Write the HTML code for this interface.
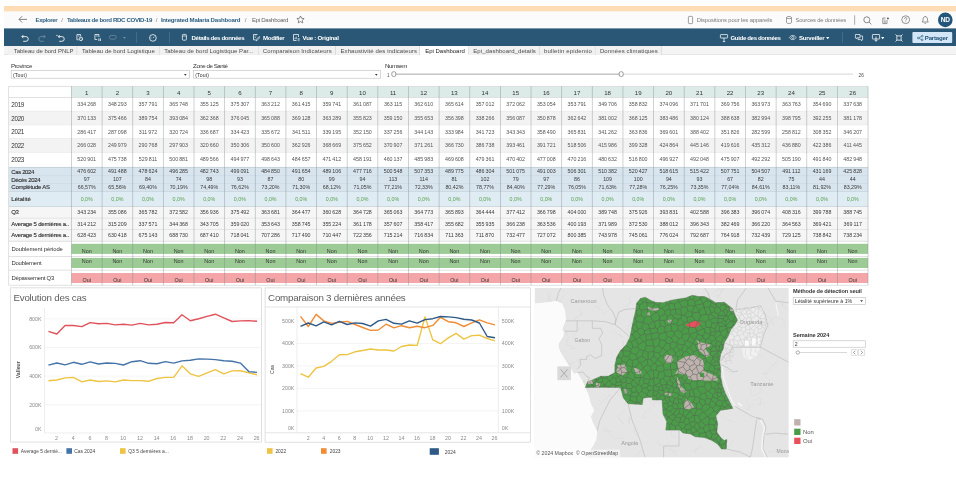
<!DOCTYPE html><html lang="fr"><head><meta charset="utf-8"><title>Epi Dashboard</title>
<style>
html,body{margin:0;padding:0;background:#fff}
body{width:956px;height:477px;position:relative;overflow:hidden;font-family:"Liberation Sans",sans-serif;color:#333}
.abs{position:absolute;white-space:nowrap}
.txt{position:absolute;left:0;top:0;width:956px;height:477px;will-change:transform}
span.abs{line-height:1.15}
svg{overflow:visible}
.bcb{font-size:5.9px;font-weight:bold;color:#2c5f82}
.bcs{font-size:5.9px;color:#777}
.bcr{font-size:5.9px;color:#666}
.bcg{font-size:5.6px;color:#7a7a7a}
.tbt{font-size:5.9px;font-weight:bold;color:#fff}
.tab{font-size:5.9px;color:#4d4d4d}
.tab.act{color:#222}
.flab{font-size:5.4px;color:#333}
.ftxt{font-size:4.9px;color:#333}
.th{font-size:6px;color:#333;text-align:center}
.td{font-size:5.2px;color:#555;text-align:center}
.td.dk{color:#3a3a3a}
.td.gr{color:#59a14f}
.ly{font-size:6.2px;color:#333}
.lb{font-size:5.9px;color:#2a2a2a;-webkit-text-stroke:0.1px #2a2a2a}
.ld{color:#333}
.td.nn{color:#333}
.ctitle{font-size:9.8px;color:#5e5e5e}
.ax{font-size:5.3px;fill:#8a8a8a;font-family:"Liberation Sans",sans-serif}
.axt{font-size:5.2px;fill:#444;font-weight:bold;font-family:"Liberation Sans",sans-serif}
.lg{font-size:4.9px;fill:#444;font-family:"Liberation Sans",sans-serif}
.ml{font-size:5.2px;fill:#9a9a9a;font-family:"Liberation Sans",sans-serif}
.attr{font-size:5.2px;fill:#555;font-family:"Liberation Sans",sans-serif}
.plab{font-size:5.4px;font-weight:bold;color:#333}
.ptxt{font-size:5px;color:#333}
.pleg{font-size:5.8px;color:#555}
</style></head>
<body>
<div class="txt">
<svg class="abs" style="left:0;top:0" width="956" height="477" viewBox="0 0 956 477">
<rect x="4.00" y="6.00" width="952.00" height="5.60" fill="#fddcb6"></rect>
<rect x="4.00" y="11.60" width="952.00" height="16.90" fill="#fbfbfb"></rect>
<rect x="854.40" y="15.30" width="0.70" height="9.40" fill="#888"></rect>
<rect x="938.00" y="12.60" width="14.60" height="14.60" rx="7.30" fill="#24557a"></rect>
<rect x="4.00" y="28.40" width="952.00" height="17.70" fill="#2a5775"></rect>
<rect x="136.40" y="32.20" width="0.60" height="10.60" fill="#587c97"></rect>
<rect x="169.40" y="32.20" width="0.60" height="10.60" fill="#587c97"></rect>
<rect x="842.20" y="32.20" width="0.60" height="10.60" fill="#587c97"></rect>
<rect x="912.40" y="32.00" width="39.80" height="11.00" rx="1.00" fill="#d3e6f8"></rect>
<rect x="4.00" y="46.10" width="952.00" height="8.80" fill="#f4f4f4"></rect><rect x="4.00" y="54.30" width="952.00" height="0.6" fill="#dcdcdc"></rect>
<rect x="8.40" y="46.10" width="68.90" height="8.80" fill="#f1f1f1"></rect><rect x="76.60" y="46.10" width="0.7" height="8.80" fill="#d2d2d2"></rect>
<rect x="77.30" y="46.10" width="82.40" height="8.80" fill="#f1f1f1"></rect><rect x="159.00" y="46.10" width="0.7" height="8.80" fill="#d2d2d2"></rect>
<rect x="159.70" y="46.10" width="99.00" height="8.80" fill="#f1f1f1"></rect><rect x="258.00" y="46.10" width="0.7" height="8.80" fill="#d2d2d2"></rect>
<rect x="258.70" y="46.10" width="77.30" height="8.80" fill="#f1f1f1"></rect><rect x="335.30" y="46.10" width="0.7" height="8.80" fill="#d2d2d2"></rect>
<rect x="336.00" y="46.10" width="84.00" height="8.80" fill="#f1f1f1"></rect><rect x="419.30" y="46.10" width="0.7" height="8.80" fill="#d2d2d2"></rect>
<rect x="420.00" y="46.10" width="48.70" height="8.80" fill="#ffffff"></rect><rect x="468.00" y="46.10" width="0.7" height="8.80" fill="#d2d2d2"></rect>
<rect x="468.70" y="46.10" width="71.20" height="8.80" fill="#f1f1f1"></rect><rect x="539.20" y="46.10" width="0.7" height="8.80" fill="#d2d2d2"></rect>
<rect x="539.90" y="46.10" width="55.70" height="8.80" fill="#f1f1f1"></rect><rect x="594.90" y="46.10" width="0.7" height="8.80" fill="#d2d2d2"></rect>
<rect x="595.60" y="46.10" width="66.00" height="8.80" fill="#f1f1f1"></rect><rect x="660.90" y="46.10" width="0.7" height="8.80" fill="#d2d2d2"></rect>
<rect x="11.20" y="70.60" width="178.10" height="7.60" fill="#fff" stroke="#bdbdbd" stroke-width="0.6"></rect>
<rect x="193.40" y="70.60" width="186.90" height="7.60" fill="#fff" stroke="#bdbdbd" stroke-width="0.6"></rect>
<rect x="394.00" y="73.60" width="227.00" height="1.10" fill="#b0b0b0"></rect>
<rect x="622.00" y="73.50" width="231.00" height="1.30" fill="#e0e0e0"></rect>
<rect x="391.85" y="71.75" width="3.90" height="4.70" rx="1.40" fill="#fff" stroke="#777" stroke-width="0.7"></rect>
<rect x="619.25" y="71.75" width="3.90" height="4.70" rx="1.40" fill="#fff" stroke="#777" stroke-width="0.7"></rect>
<rect x="71.40" y="86.30" width="796.60" height="11.20" fill="#dcebe8"></rect>
<rect x="8.70" y="97.50" width="859.30" height="13.70" fill="#ffffff"></rect>
<rect x="8.70" y="111.20" width="859.30" height="13.70" fill="#f3f3f3"></rect>
<rect x="8.70" y="124.90" width="859.30" height="13.70" fill="#ffffff"></rect>
<rect x="8.70" y="138.60" width="859.30" height="13.70" fill="#f3f3f3"></rect>
<rect x="8.70" y="152.30" width="859.30" height="14.90" fill="#ffffff"></rect>
<rect x="8.70" y="167.40" width="859.30" height="8.30" fill="#d8e5ee"></rect>
<rect x="8.70" y="175.70" width="859.30" height="7.80" fill="#d8e5ee"></rect>
<rect x="8.70" y="183.50" width="859.30" height="7.90" fill="#d8e5ee"></rect>
<rect x="8.70" y="191.40" width="859.30" height="15.00" fill="#e0ecf3"></rect>
<rect x="8.70" y="206.40" width="859.30" height="11.70" fill="#f6f6f6"></rect>
<rect x="8.70" y="218.10" width="859.30" height="11.40" fill="#f6f6f6"></rect>
<rect x="8.70" y="229.50" width="859.30" height="11.60" fill="#f6f6f6"></rect>
<rect x="8.70" y="85.95" width="859.30" height="0.70" fill="#d4d4d4"></rect>
<rect x="8.70" y="97.15" width="859.30" height="0.70" fill="#d4d4d4"></rect>
<rect x="8.70" y="110.85" width="859.30" height="0.70" fill="#e8e8e8"></rect>
<rect x="8.70" y="124.55" width="859.30" height="0.70" fill="#e8e8e8"></rect>
<rect x="8.70" y="138.25" width="859.30" height="0.70" fill="#e8e8e8"></rect>
<rect x="8.70" y="151.95" width="859.30" height="0.70" fill="#e8e8e8"></rect>
<rect x="8.70" y="166.95" width="859.30" height="0.70" fill="#b9c6cf"></rect>
<rect x="8.70" y="175.35" width="859.30" height="0.70" fill="#cbd9e3"></rect>
<rect x="8.70" y="183.15" width="859.30" height="0.70" fill="#cbd9e3"></rect>
<rect x="8.70" y="191.05" width="859.30" height="0.70" fill="#c3d0d9"></rect>
<rect x="8.70" y="206.05" width="859.30" height="0.70" fill="#c2cdd4"></rect>
<rect x="8.70" y="217.75" width="859.30" height="0.70" fill="#dedede"></rect>
<rect x="8.70" y="229.15" width="859.30" height="0.70" fill="#dedede"></rect>
<rect x="8.70" y="240.85" width="859.30" height="0.70" fill="#d4d4d4"></rect>
<rect x="71.40" y="243.80" width="796.60" height="10.10" fill="#9ccb95"></rect>
<rect x="8.70" y="256.05" width="859.30" height="0.70" fill="#d4d4d4"></rect>
<rect x="71.40" y="257.90" width="796.60" height="10.10" fill="#9ccb95"></rect>
<rect x="8.70" y="269.75" width="859.30" height="0.70" fill="#d4d4d4"></rect>
<rect x="71.40" y="273.00" width="796.60" height="10.00" fill="#f3a5a7"></rect>
<rect x="8.70" y="284.85" width="859.30" height="0.70" fill="#d4d4d4"></rect>
<rect x="71.05" y="86.30" width="0.80" height="198.90" fill="rgba(120,130,135,0.45)"></rect>
<rect x="101.69" y="86.30" width="0.80" height="198.90" fill="rgba(120,130,135,0.45)"></rect>
<rect x="132.33" y="86.30" width="0.80" height="198.90" fill="rgba(120,130,135,0.45)"></rect>
<rect x="162.97" y="86.30" width="0.80" height="198.90" fill="rgba(120,130,135,0.45)"></rect>
<rect x="193.60" y="86.30" width="0.80" height="198.90" fill="rgba(120,130,135,0.45)"></rect>
<rect x="224.24" y="86.30" width="0.80" height="198.90" fill="rgba(120,130,135,0.45)"></rect>
<rect x="254.88" y="86.30" width="0.80" height="198.90" fill="rgba(120,130,135,0.45)"></rect>
<rect x="285.52" y="86.30" width="0.80" height="198.90" fill="rgba(120,130,135,0.45)"></rect>
<rect x="316.16" y="86.30" width="0.80" height="198.90" fill="rgba(120,130,135,0.45)"></rect>
<rect x="346.80" y="86.30" width="0.80" height="198.90" fill="rgba(120,130,135,0.45)"></rect>
<rect x="377.43" y="86.30" width="0.80" height="198.90" fill="rgba(120,130,135,0.45)"></rect>
<rect x="408.07" y="86.30" width="0.80" height="198.90" fill="rgba(120,130,135,0.45)"></rect>
<rect x="438.71" y="86.30" width="0.80" height="198.90" fill="rgba(120,130,135,0.45)"></rect>
<rect x="469.35" y="86.30" width="0.80" height="198.90" fill="rgba(120,130,135,0.45)"></rect>
<rect x="499.99" y="86.30" width="0.80" height="198.90" fill="rgba(120,130,135,0.45)"></rect>
<rect x="530.63" y="86.30" width="0.80" height="198.90" fill="rgba(120,130,135,0.45)"></rect>
<rect x="561.27" y="86.30" width="0.80" height="198.90" fill="rgba(120,130,135,0.45)"></rect>
<rect x="591.90" y="86.30" width="0.80" height="198.90" fill="rgba(120,130,135,0.45)"></rect>
<rect x="622.54" y="86.30" width="0.80" height="198.90" fill="rgba(120,130,135,0.45)"></rect>
<rect x="653.18" y="86.30" width="0.80" height="198.90" fill="rgba(120,130,135,0.45)"></rect>
<rect x="683.82" y="86.30" width="0.80" height="198.90" fill="rgba(120,130,135,0.45)"></rect>
<rect x="714.46" y="86.30" width="0.80" height="198.90" fill="rgba(120,130,135,0.45)"></rect>
<rect x="745.10" y="86.30" width="0.80" height="198.90" fill="rgba(120,130,135,0.45)"></rect>
<rect x="775.73" y="86.30" width="0.80" height="198.90" fill="rgba(120,130,135,0.45)"></rect>
<rect x="806.37" y="86.30" width="0.80" height="198.90" fill="rgba(120,130,135,0.45)"></rect>
<rect x="837.01" y="86.30" width="0.80" height="198.90" fill="rgba(120,130,135,0.45)"></rect>
<rect x="867.65" y="86.30" width="0.80" height="198.90" fill="rgba(120,130,135,0.45)"></rect>
<rect x="8.35" y="86.30" width="0.70" height="198.90" fill="#d4d4d4"></rect>
<rect x="10.65" y="287.85" width="250.95" height="154.20" fill="#fff" stroke="#d2d2d2" stroke-width="0.7"></rect>
</svg>
<svg class="abs" style="left:18.4px;top:14.9px" width="10" height="9" viewBox="0 0 10 9"><path d="M9 4.4H1.2M4.2 1.2L1 4.4L4.2 7.6" fill="none" stroke="#666" stroke-width="0.8"></path></svg>
<svg class="abs" style="left:295.6px;top:15.4px" width="9" height="9" viewBox="0 0 24 24"><path d="M12 2.5l2.9 6.3 6.8.8-5 4.7 1.3 6.8L12 17.7 6 21.1l1.3-6.8-5-4.7 6.8-.8z" fill="none" stroke="#666" stroke-width="2"></path></svg>
<svg class="abs" style="left:688px;top:15.8px" width="5" height="8" viewBox="0 0 5 8"><rect x="0.4" y="0.4" width="4.2" height="7.2" rx="0.8" fill="none" stroke="#777" stroke-width="0.7"></rect></svg>
<svg class="abs" style="left:786px;top:15.8px" width="6" height="8" viewBox="0 0 6 8"><path d="M0.5 1.6v4.8c0 .6 1.1 1.1 2.5 1.1s2.5-.5 2.5-1.1V1.6" fill="none" stroke="#777" stroke-width="0.7"></path><ellipse cx="3" cy="1.6" rx="2.5" ry="1.1" fill="none" stroke="#777" stroke-width="0.7"></ellipse></svg>
<svg class="abs" style="left:863px;top:15.6px" width="9" height="9" viewBox="0 0 9 9"><circle cx="3.8" cy="3.8" r="3" fill="none" stroke="#666" stroke-width="0.75"></circle><path d="M6 6l2.4 2.4" stroke="#666" stroke-width="0.75"></path></svg>
<svg class="abs" style="left:881.6px;top:16.6px" width="8" height="8" viewBox="0 0 8 8"><path d="M3.6 1H0.8V6.6H5V3" fill="none" stroke="#6a6a6a" stroke-width="0.7"></path><path d="M1.8 3H3.4M1.8 4.2H4M1.8 5.4H4" stroke="#6a6a6a" stroke-width="0.5"></path><circle cx="5.9" cy="1.4" r="0.95" fill="#555"></circle></svg>
<svg class="abs" style="left:900.5px;top:15.3px" width="9.4" height="9.4" viewBox="0 0 10 10"><circle cx="5" cy="5" r="4.2" fill="none" stroke="#666" stroke-width="0.75"></circle><path d="M3.7 4c0-.8.6-1.3 1.3-1.3s1.3.5 1.3 1.2c0 .9-1.3 1-1.3 2.1" fill="none" stroke="#666" stroke-width="0.75"></path><circle cx="5" cy="7.3" r="0.45" fill="#666"></circle></svg>
<svg class="abs" style="left:921px;top:15.3px" width="8.5" height="9.5" viewBox="0 0 9 10"><path d="M1.2 7.4c1-.9 1-1.8 1-3.2 0-1.500 1-2.500 2.300-2.500s2.300 1 2.300 2.500c0 1.400 0 2.300 1 3.200z" fill="none" stroke="#666" stroke-width="0.75" stroke-linejoin="round"></path><path d="M3.700 8.500c.2.400.5.600.8.600s.6-.2.800-.6" fill="none" stroke="#666" stroke-width="0.7"></path><path d="M4.500 1.700V0.900" stroke="#666" stroke-width="0.7"></path></svg>
<svg class="abs" style="left:21.3px;top:33.6px" width="8" height="8" viewBox="0 0 8 8"><g><path d="M0.9 2.6H4.9A2.35 2.35 0 0 1 4.9 7.3H2.2" fill="none" stroke="#ffffff" stroke-width="0.85"></path><path d="M2.4 1L0.8 2.6L2.4 4.2" fill="none" stroke="#ffffff" stroke-width="0.85"></path></g></svg>
<svg class="abs" style="left:38.4px;top:33.6px" width="8" height="8" viewBox="0 0 8 8"><g transform="translate(8,0) scale(-1,1)"><path d="M0.9 2.6H4.9A2.35 2.35 0 0 1 4.9 7.3H2.2" fill="none" stroke="#6f8ea5" stroke-width="0.85"></path><path d="M2.4 1L0.8 2.6L2.4 4.2" fill="none" stroke="#6f8ea5" stroke-width="0.85"></path></g></svg>
<svg class="abs" style="left:56.4px;top:33.6px" width="9" height="8" viewBox="0 0 9 8"><path d="M2.4 2.6H5.9A2.35 2.35 0 0 1 5.9 7.3H3.2" fill="none" stroke="#ffffff" stroke-width="0.85"></path><path d="M3.7 1.1L2.3 2.6L3.7 4.1" fill="none" stroke="#ffffff" stroke-width="0.85"></path><path d="M0.3 1.4H1.5" stroke="#ffffff" stroke-width="0.85"></path></svg>
<svg class="abs" style="left:76.2px;top:34.2px" width="7.2" height="7.2" viewBox="0 0 7.2 7.2"><path d="M4.6 0.5H0.9V5.8H2.6" fill="none" stroke="#ffffff" stroke-width="0.75"></path><path d="M4.6 0.5V2.4" stroke="#ffffff" stroke-width="0.75"></path><circle cx="4.9" cy="4.9" r="1.75" fill="none" stroke="#ffffff" stroke-width="0.8"></circle><path d="M1.9 2H3.6" stroke="#ffffff" stroke-width="0.6"></path><path d="M4.9 4V5L5.6 5.3" fill="none" stroke="#ffffff" stroke-width="0.5"></path></svg>
<svg class="abs" style="left:93.8px;top:34.2px" width="7.5" height="7.5" viewBox="0 0 7.5 7.5"><path d="M4.9 0.500H0.9V5.5H3.2" fill="none" stroke="#ffffff" stroke-width="0.75"></path><path d="M4.9 0.500V3.2" stroke="#ffffff" stroke-width="0.75"></path><path d="M4.9 4.4V7M6.4 4.4V7" stroke="#ffffff" stroke-width="0.8"></path><path d="M1.900 2H3.800" stroke="#ffffff" stroke-width="0.6"></path></svg>
<svg class="abs" style="left:109px;top:35.3px" width="7.6" height="4.8" viewBox="0 0 7.6 4.8"><rect x="0.4" y="0.4" width="6.8" height="3.8" rx="1.9" fill="none" stroke="#6f8ea5" stroke-width="0.75"></rect></svg>
<svg class="abs" style="left:123.2px;top:36.6px" width="3" height="2" viewBox="0 0 3 2"><path d="M0 0H3L1.500 2z" fill="#6f8ea5"></path></svg>
<svg class="abs" style="left:149.2px;top:33.8px" width="7.8" height="7.8" viewBox="0 0 7.8 7.8"><circle cx="3.9" cy="3.9" r="3.35" fill="none" stroke="#ffffff" stroke-width="0.8"></circle><path d="M3.9 4L5.300 2.600M1.700 4H2.500" stroke="#ffffff" stroke-width="0.7"></path></svg>
<svg class="abs" style="left:182.2px;top:34.4px" width="4.8" height="6.6" viewBox="0 0 4.8 6.6"><rect x="0.4" y="0.4" width="4" height="5.8" rx="0.9" fill="none" stroke="#ffffff" stroke-width="0.75"></rect><path d="M0.4 2H4.4" stroke="#ffffff" stroke-width="0.65"></path></svg>
<svg class="abs" style="left:252.600px;top:33.800px" width="7.500" height="7.500" viewBox="0 0 7.500 7.500"><path d="M4.500 0.500H0.500V5.800H2.500" fill="none" stroke="#ffffff" stroke-width="0.75"></path><path d="M3 7L3.400 5.400L6.200 2.600L7 3.400L4.200 6.200z" fill="none" stroke="#ffffff" stroke-width="0.65"></path><path d="M1.500 2H3.500M1.500 3.500H3" stroke="#ffffff" stroke-width="0.5"></path></svg>
<svg class="abs" style="left:293px;top:33.800px" width="7" height="7.500" viewBox="0 0 7 7.500"><path d="M5.500 3V0.500H0.500V6.500H3.500" fill="none" stroke="#ffffff" stroke-width="0.75"></path><path d="M2 5.200V3.800M3.200 5.200V2.500" stroke="#ffffff" stroke-width="0.7"></path><path d="M4.600 4.500H6.600M4.600 5.600H6.600M4.600 6.700H6.600" stroke="#ffffff" stroke-width="0.55"></path></svg>
<svg class="abs" style="left:720px;top:33.600px" width="8" height="8" viewBox="0 0 8 8"><rect x="0.400" y="0.600" width="7.200" height="3.400" rx="0.500" fill="none" stroke="#ffffff" stroke-width="0.75"></rect><path d="M4 4V7.600M2.800 7.600H5.200" stroke="#ffffff" stroke-width="0.75"></path></svg>
<svg class="abs" style="left:789px;top:35px" width="7.500" height="5" viewBox="0 0 7.500 5"><path d="M0.400 2.500C1.500 0.800 2.600 0.400 3.750 0.400S6 0.800 7.100 2.500C6 4.200 4.900 4.600 3.750 4.600S1.500 4.200 0.400 2.500z" fill="none" stroke="#ffffff" stroke-width="0.65"></path><circle cx="3.750" cy="2.500" r="1.100" fill="none" stroke="#ffffff" stroke-width="0.65"></circle></svg>
<svg class="abs" style="left:826px;top:36.600px" width="3.400" height="2.200" viewBox="0 0 3 2"><path d="M0 0H3L1.500 2z" fill="#ffffff"></path></svg>
<svg class="abs" style="left:855px;top:33.800px" width="8" height="7.500" viewBox="0 0 8 7.500"><path d="M0.400 0.500H5V3.800H2.200L1.200 4.800V3.800H0.400z" fill="none" stroke="#ffffff" stroke-width="0.7"></path><path d="M5.200 2H7.600V5.600H6.800V6.700L5.700 5.600H3V4" fill="none" stroke="#ffffff" stroke-width="0.7"></path></svg>
<svg class="abs" style="left:871.800px;top:33.600px" width="8" height="8" viewBox="0 0 8 8"><rect x="0.400" y="0.500" width="7.200" height="4.500" rx="0.400" fill="none" stroke="#ffffff" stroke-width="0.75"></rect><path d="M4 2.500V7.200M2.600 5.900L4 7.300L5.400 5.900" fill="none" stroke="#ffffff" stroke-width="0.75"></path></svg>
<svg class="abs" style="left:881.200px;top:36.600px" width="3.400" height="2.200" viewBox="0 0 3 2"><path d="M0 0H3L1.500 2z" fill="#ffffff"></path></svg>
<svg class="abs" style="left:894.800px;top:33.700px" width="8" height="8" viewBox="0 0 8 8"><rect x="1.900" y="1.900" width="4.200" height="4.200" fill="none" stroke="#ffffff" stroke-width="0.8"></rect><path d="M0.500 0.500L1.900 1.900M7.500 0.500L6.100 1.900M7.500 7.500L6.100 6.100M0.500 7.500L1.900 6.100" fill="none" stroke="#ffffff" stroke-width="0.8"></path></svg>
<svg class="abs" style="left:916.500px;top:34.600px" width="6.500" height="6" viewBox="0 0 6.500 6"><circle cx="1.300" cy="3" r="0.900" fill="none" stroke="#24557a" stroke-width="0.6"></circle><circle cx="5.200" cy="1.100" r="0.900" fill="none" stroke="#24557a" stroke-width="0.6"></circle><circle cx="5.200" cy="4.900" r="0.900" fill="none" stroke="#24557a" stroke-width="0.6"></circle><path d="M2.100 2.600L4.400 1.500M2.100 3.400L4.400 4.500" stroke="#24557a" stroke-width="0.6"></path></svg>
<svg class="abs" style="left:183.79999999999998px;top:73.6px" width="2.6" height="1.8" viewBox="0 0 3 2"><path d="M0 0H3L1.500 2z" fill="#333"></path></svg>
<svg class="abs" style="left:374.8px;top:73.6px" width="2.6" height="1.8" viewBox="0 0 3 2"><path d="M0 0H3L1.500 2z" fill="#333"></path></svg>
<svg class="abs" style="left:0;top:0" width="956" height="477" viewBox="0 0 956 477">
<line x1="44.5" x2="261.2" y1="404.7" y2="404.7" stroke="#ececec" stroke-width="0.6"></line>
<line x1="44.5" x2="261.2" y1="376.1" y2="376.1" stroke="#ececec" stroke-width="0.6"></line>
<line x1="44.5" x2="261.2" y1="347.5" y2="347.5" stroke="#ececec" stroke-width="0.6"></line>
<line x1="44.5" x2="261.2" y1="318.9" y2="318.9" stroke="#ececec" stroke-width="0.6"></line>
<line x1="44.5" x2="44.5" y1="308" y2="433" stroke="#e2e2e2" stroke-width="0.6"></line>
<line x1="44.5" x2="261.2" y1="433" y2="433" stroke="#e2e2e2" stroke-width="0.6"></line>
<polyline points="48.4,380.8 56.8,380.0 65.1,377.9 73.4,377.4 81.8,381.9 90.2,380.0 98.5,381.5 106.8,380.9 115.2,381.9 123.5,380.0 131.9,380.6 140.2,380.6 148.6,381.3 156.9,378.5 165.3,377.4 173.7,377.4 182.0,365.8 190.3,373.8 198.7,376.4 207.1,372.8 215.4,369.6 223.8,373.8 232.1,370.9 240.4,370.8 248.8,372.8 257.1,374.7" fill="none" stroke="#edc443" stroke-width="1.4" stroke-linejoin="round"></polyline>
<polyline points="48.4,365.1 56.8,363.0 65.1,364.9 73.4,362.3 81.8,364.3 90.2,361.9 98.5,364.0 106.8,363.0 115.2,363.4 123.5,365.0 131.9,361.7 140.2,360.7 148.6,363.3 156.9,363.8 165.3,361.6 173.7,363.1 182.0,360.9 190.3,360.3 198.7,358.9 207.1,359.1 215.4,359.6 223.8,360.7 232.1,361.2 240.4,363.1 248.8,371.6 257.1,372.4" fill="none" stroke="#4473a8" stroke-width="1.4" stroke-linejoin="round"></polyline>
<polyline points="48.4,331.3 56.8,334.0 65.1,325.5 73.4,325.5 81.8,326.6 90.2,322.6 98.5,323.8 106.8,323.4 115.2,324.9 123.5,324.3 131.9,325.1 140.2,323.4 148.6,324.9 156.9,324.2 165.3,322.5 173.7,322.8 182.0,314.7 190.3,320.8 198.7,318.7 207.1,316.4 215.4,314.2 223.8,317.9 232.1,321.5 240.4,320.9 248.8,320.6 257.1,321.3" fill="none" stroke="#e0525c" stroke-width="1.4" stroke-linejoin="round"></polyline>
<text x="41.5" y="320.7" class="ax" text-anchor="end">800K</text>
<text x="41.5" y="349.3" class="ax" text-anchor="end">600K</text>
<text x="41.5" y="377.9" class="ax" text-anchor="end">400K</text>
<text x="41.5" y="406.5" class="ax" text-anchor="end">200K</text>
<text x="41.5" y="430.6" class="ax" text-anchor="end">0K</text>
<text x="56.6" y="440.2" class="ax" text-anchor="middle">2</text>
<text x="73.3" y="440.2" class="ax" text-anchor="middle">4</text>
<text x="90.0" y="440.2" class="ax" text-anchor="middle">6</text>
<text x="106.6" y="440.2" class="ax" text-anchor="middle">8</text>
<text x="123.3" y="440.2" class="ax" text-anchor="middle">10</text>
<text x="140.0" y="440.2" class="ax" text-anchor="middle">12</text>
<text x="156.6" y="440.2" class="ax" text-anchor="middle">14</text>
<text x="173.3" y="440.2" class="ax" text-anchor="middle">16</text>
<text x="190.0" y="440.2" class="ax" text-anchor="middle">18</text>
<text x="206.6" y="440.2" class="ax" text-anchor="middle">20</text>
<text x="223.3" y="440.2" class="ax" text-anchor="middle">22</text>
<text x="240.0" y="440.2" class="ax" text-anchor="middle">24</text>
<text x="256.6" y="440.2" class="ax" text-anchor="middle">26</text>
<text transform="translate(20.2,369.8) rotate(-90)" class="axt" style="fill:#555" text-anchor="middle">Valleur</text>
<rect x="12.5" y="448.2" width="5.6" height="5.6" fill="#e0525c"></rect>
<rect x="66.4" y="448.2" width="5.6" height="5.6" fill="#4473a8"></rect>
<rect x="120.0" y="448.2" width="5.6" height="5.6" fill="#edc443"></rect>
<text x="20.8" y="452.9" class="lg">Average 5 derniè...</text>
<text x="74.3" y="452.9" class="lg">Cas 2024</text>
<text x="128.3" y="452.9" class="lg">Q3 5 dernières a...</text>
<rect x="265.1" y="287.9" width="265.4" height="154.3" fill="#fff" stroke="#d2d2d2" stroke-width="0.7"></rect>
<line x1="265.1" x2="530.5" y1="307.0" y2="307.0" stroke="#d8d8d8" stroke-width="0.7"></line>
<line x1="265.1" x2="530.5" y1="432.8" y2="432.8" stroke="#d8d8d8" stroke-width="0.7"></line>
<line x1="297.0" x2="498.4" y1="410.9" y2="410.9" stroke="#ececec" stroke-width="0.6"></line>
<line x1="297.0" x2="498.4" y1="388.4" y2="388.4" stroke="#ececec" stroke-width="0.6"></line>
<line x1="297.0" x2="498.4" y1="365.9" y2="365.9" stroke="#ececec" stroke-width="0.6"></line>
<line x1="297.0" x2="498.4" y1="343.5" y2="343.5" stroke="#ececec" stroke-width="0.6"></line>
<line x1="297.0" x2="498.4" y1="321.1" y2="321.1" stroke="#ececec" stroke-width="0.6"></line>
<line x1="297.0" x2="297.0" y1="307" y2="432.8" stroke="#e0e0e0" stroke-width="0.6"></line>
<line x1="498.4" x2="498.4" y1="307" y2="432.8" stroke="#e0e0e0" stroke-width="0.6"></line>
<polyline points="300.5,373.6 308.3,377.2 316.1,368.0 323.8,366.4 331.6,361.3 339.4,354.7 347.2,354.6 355.0,351.8 362.7,350.5 370.5,349.0 378.3,350.0 386.1,350.0 393.9,351.0 401.6,346.5 409.4,345.0 417.2,345.4 425.0,316.9 432.8,339.9 440.5,343.7 448.3,337.9 456.1,333.4 463.9,339.1 471.7,335.6 479.4,335.2 487.2,338.5 495.0,340.9" fill="none" stroke="#edc443" stroke-width="1.4" stroke-linejoin="round"></polyline>
<polyline points="300.5,316.4 308.3,326.5 316.1,314.4 323.8,320.9 331.6,323.4 339.4,322.2 347.2,321.4 355.0,324.5 362.7,327.5 370.5,330.4 378.3,330.0 386.1,324.2 393.9,327.9 401.6,325.7 409.4,327.7 417.2,326.2 425.0,327.7 432.8,325.4 440.5,317.3 448.3,321.7 456.1,322.8 463.9,326.5 471.7,322.8 479.4,319.9 487.2,322.9 495.0,324.9" fill="none" stroke="#f08c33" stroke-width="1.4" stroke-linejoin="round"></polyline>
<polyline points="300.5,326.3 308.3,323.0 316.1,325.8 323.8,321.9 331.6,324.9 339.4,321.3 347.2,324.5 355.0,322.9 362.7,323.5 370.5,326.1 378.3,320.9 386.1,319.4 393.9,323.3 401.6,324.1 409.4,320.8 417.2,323.1 425.0,319.6 432.8,318.7 440.5,316.5 448.3,316.9 456.1,317.6 463.9,319.3 471.7,320.0 479.4,323.0 487.2,336.5 495.0,337.7" fill="none" stroke="#2f5a88" stroke-width="1.4" stroke-linejoin="round"></polyline>
<text x="294.4" y="322.9" class="ax" text-anchor="end">500K</text>
<text x="501.8" y="322.9" class="ax">500K</text>
<text x="294.4" y="345.3" class="ax" text-anchor="end">400K</text>
<text x="501.8" y="345.3" class="ax">400K</text>
<text x="294.4" y="367.8" class="ax" text-anchor="end">300K</text>
<text x="501.8" y="367.8" class="ax">300K</text>
<text x="294.4" y="390.2" class="ax" text-anchor="end">200K</text>
<text x="501.8" y="390.2" class="ax">200K</text>
<text x="294.4" y="412.7" class="ax" text-anchor="end">100K</text>
<text x="501.8" y="412.7" class="ax">100K</text>
<text x="294.4" y="430.2" class="ax" text-anchor="end">0K</text>
<text x="501.8" y="430.2" class="ax">0K</text>
<text x="308.3" y="440.2" class="ax" text-anchor="middle">2</text>
<text x="323.8" y="440.2" class="ax" text-anchor="middle">4</text>
<text x="339.3" y="440.2" class="ax" text-anchor="middle">6</text>
<text x="354.8" y="440.2" class="ax" text-anchor="middle">8</text>
<text x="370.3" y="440.2" class="ax" text-anchor="middle">10</text>
<text x="385.9" y="440.2" class="ax" text-anchor="middle">12</text>
<text x="401.4" y="440.2" class="ax" text-anchor="middle">14</text>
<text x="416.9" y="440.2" class="ax" text-anchor="middle">16</text>
<text x="432.4" y="440.2" class="ax" text-anchor="middle">18</text>
<text x="447.9" y="440.2" class="ax" text-anchor="middle">20</text>
<text x="463.5" y="440.2" class="ax" text-anchor="middle">22</text>
<text x="479.0" y="440.2" class="ax" text-anchor="middle">24</text>
<text x="494.5" y="440.2" class="ax" text-anchor="middle">26</text>
<text transform="translate(274.4,369.4) rotate(-90)" class="axt" style="font-weight:normal" text-anchor="middle">Cas</text>
<rect x="267" y="448.2" width="5.6" height="5.6" fill="#edc443"></rect>
<rect x="321" y="448.2" width="5.6" height="5.6" fill="#f08c33"></rect>
<rect x="429.7" y="448.2" width="9.2" height="6.6" fill="#2f5a88"></rect>
<text x="275.4" y="452.9" class="lg">2022</text>
<text x="329.7" y="452.9" class="lg">2023</text>
<text x="444.8" y="453.6" class="lg">2024</text>
</svg>
<svg class="abs" style="left:0;top:0" width="956" height="477" viewBox="0 0 956 477">
<defs><clipPath id="mc"><rect x="534.6" y="288.0" width="254.2" height="169.6"></rect></clipPath></defs>
<g clip-path="url(#mc)">
<rect x="534.6" y="288.0" width="254.2" height="169.6" fill="#e5e5e5"></rect>
<polygon points="530.0,303.8 534.7,303.8 541.3,302.9 550.8,301.9 556.4,301.0 562.1,303.8 564.9,310.4 565.8,319.8 564.0,324.6 562.1,329.3 564.0,332.1 563.0,336.8 559.2,342.5 558.3,346.3 560.2,351.9 564.9,359.5 569.6,367.0 574.3,374.0 577.2,372.6 582.4,381.0 585.6,388.3 588.7,395.7 590.8,404.0 594.0,410.3 590.8,416.6 592.9,422.9 597.1,431.3 596.1,439.7 592.9,446.0 588.7,452.3 586.6,460.0 530.0,460.0" fill="#fbfbfb"></polygon>
<polygon points="736.0,308.5 747.7,306.8 760.3,305.1 765.3,313.5 768.7,321.9 765.3,329.4 762.0,337.0 760.3,347.0 731.8,347.0 728.4,340.3 730.9,333.6 735.1,326.1 738.5,321.9 736.0,315.2" fill="#ebebeb"></polygon>
<path d="M760.8 306.4L761.1 306.5M760.8 306.4L760.9 306.0M765.3 313.5L764.3 313.8M764.2 311.7L763.3 313.2M764.3 313.8L763.4 313.5M763.3 313.2L763.4 313.5M764.3 313.8L765.7 316.0M765.7 316.0L766.3 316.0M760.8 306.4L759.0 308.1M763.3 313.2L759.1 308.5M759.0 308.1L759.1 308.5M759.5 317.6L759.4 317.6M759.4 317.6L757.5 316.2M763.4 313.5L759.5 317.6M759.1 308.5L757.5 316.2M762.0 322.3L760.4 318.2M762.0 322.3L765.3 322.1M760.4 318.2L764.6 318.8M764.6 318.8L765.8 320.0M765.3 322.1L765.8 320.0M765.7 316.0L764.6 318.8M759.5 317.6L760.4 318.2M767.8 319.6L765.8 320.0M768.0 323.4L766.0 323.7M766.0 323.7L765.3 322.1M741.2 327.6L745.4 327.0M745.9 329.8L745.4 327.0M741.2 327.6L741.5 330.6M745.9 329.8L744.9 331.8M744.9 331.8L743.3 332.5M741.5 330.6L743.3 332.5M759.4 317.6L757.4 321.5M761.0 324.7L762.0 322.3M761.0 324.7L760.4 324.7M760.4 324.7L757.4 321.5M751.4 318.7L751.5 320.1M751.4 318.7L755.7 315.9M752.4 321.9L751.5 320.1M755.7 315.9L757.5 316.2M752.4 321.9L754.3 323.1M754.3 323.1L757.4 321.5M739.3 317.9L737.4 319.1M739.3 317.9L740.0 315.9M740.0 315.9L736.0 315.0M738.0 322.5L742.2 321.9M742.2 321.9L739.3 317.9M740.3 326.5L742.8 322.6M740.3 326.5L739.1 326.4M742.2 321.9L742.3 321.9M739.1 326.4L737.3 323.3M742.3 321.9L742.8 322.6M747.8 325.3L747.1 321.9M747.8 325.3L745.9 326.0M745.9 326.0L743.0 322.6M743.0 322.6L746.2 321.4M747.1 321.9L746.2 321.4M752.4 321.9L748.9 325.6M751.5 320.1L747.1 321.9M748.9 325.6L747.8 325.3M742.8 322.6L743.0 322.6M745.4 327.0L745.9 326.0M740.3 326.5L741.2 327.6M742.3 321.9L744.4 317.7M744.4 317.7L746.3 318.3M746.3 318.3L746.2 321.4M744.9 331.8L748.4 333.5M748.4 333.5L746.0 338.1M743.3 332.5L742.9 333.7M742.9 333.7L745.8 338.1M746.0 338.1L745.8 338.1M738.2 345.0L740.8 346.2M740.6 347.0L740.8 346.2M738.2 345.0L737.6 345.3M737.6 345.3L736.7 347.0M738.5 331.0L737.1 333.0M738.5 331.0L737.0 328.0M737.1 333.0L733.1 330.0M737.0 328.0L733.9 328.2M733.1 330.0L733.9 328.2M739.5 335.8L737.4 335.1M737.4 335.1L737.1 333.0M742.9 333.7L739.5 335.8M741.5 330.6L738.5 331.0M739.1 326.4L737.0 328.0M732.8 330.1L732.9 330.1M732.9 330.1L733.1 330.0M732.0 334.0L730.6 334.3M732.0 334.0L734.4 336.9M730.5 340.3L733.3 339.6M730.5 340.3L729.1 338.5M734.4 336.9L733.6 339.4M733.3 339.6L733.6 339.4M732.9 330.1L732.0 334.0M737.4 335.1L734.4 336.9M728.9 341.4L729.9 341.1M729.9 341.1L730.5 340.3M738.2 345.0L738.1 341.3M737.6 345.3L734.4 344.6M734.4 344.6L733.3 339.6M738.1 341.3L733.6 339.4M746.4 338.3L746.0 338.1M748.4 333.5L749.2 333.5M746.4 338.3L750.3 336.6M750.3 336.6L749.2 333.5M754.3 323.1L754.9 325.4M748.9 325.6L750.7 328.4M750.7 328.4L754.9 325.4M760.4 324.7L756.9 327.2M756.9 327.2L756.6 327.2M754.9 325.4L756.6 327.2M761.0 324.7L761.4 325.1M766.0 323.7L765.7 325.0M761.4 325.1L765.7 325.0M766.7 326.3L765.9 325.8M765.7 325.0L765.9 325.8M760.2 341.2L758.0 343.1M760.2 341.2L761.3 341.2M761.3 341.2L761.3 341.2M758.0 343.1L760.3 346.8M761.3 341.2L761.3 341.2M760.3 347.0L760.3 347.0M759.0 308.1L758.7 308.0M757.2 305.5L758.7 308.0M750.7 313.4L747.3 314.0M750.7 313.4L751.0 318.4M747.3 314.0L748.4 317.6M751.0 318.4L748.4 317.6M751.4 318.7L751.0 318.4M746.3 318.3L748.4 317.6M739.5 335.8L740.5 339.6M745.8 338.1L744.5 339.1M744.5 339.1L740.5 339.6M738.1 341.3L740.4 339.7M740.5 339.6L740.4 339.7M755.9 347.0L755.0 343.1M758.0 343.1L755.1 343.0M755.0 343.1L755.1 343.0M744.1 347.0L743.3 345.8M744.5 344.3L743.5 345.3M744.5 344.3L748.9 343.0M748.9 343.0L750.5 344.9M743.3 345.8L743.5 345.3M750.4 347.0L750.5 344.9M740.8 346.2L743.3 345.8M744.5 339.1L744.5 344.3M740.4 339.7L743.5 345.3M749.0 341.3L748.9 343.0M746.4 338.3L749.0 341.3M755.0 343.1L750.5 344.9M730.4 344.1L732.9 345.7M732.9 345.7L732.8 347.0M729.9 341.1L730.1 343.7M734.4 344.6L732.9 345.7M754.4 333.5L749.5 333.2M754.4 333.5L753.7 330.7M753.7 330.7L750.7 328.7M749.5 333.2L750.0 329.4M750.0 329.4L750.7 328.7M750.7 328.4L750.7 328.7M756.6 327.2L753.7 330.7M749.2 333.5L749.5 333.2M745.9 329.8L750.0 329.4M764.4 328.3L762.0 327.2M764.4 328.3L764.9 330.4M764.4 331.6L762.8 332.0M762.8 332.0L760.8 328.9M760.8 328.9L762.0 327.2M761.4 325.1L762.0 327.2M765.9 325.8L764.4 328.3M762.5 335.9L762.1 332.6M762.1 332.6L762.8 332.0M758.2 329.0L758.1 333.0M758.2 329.0L760.8 328.9M762.1 332.6L758.1 333.0M756.9 327.2L758.2 329.0M755.7 315.9L753.5 312.3M758.7 308.0L756.8 308.3M756.8 308.3L753.5 312.3M750.7 313.4L751.6 312.0M753.5 312.3L751.6 312.0M736.0 311.9L736.5 311.4M736.0 310.0L736.4 310.4M736.5 311.4L736.4 310.4M736.4 310.4L738.6 308.1M754.8 340.9L751.5 339.7M754.8 340.9L756.8 337.6M756.8 337.6L756.8 336.4M751.5 337.2L755.5 334.6M751.5 337.2L751.5 339.7M756.8 336.4L756.2 334.9M755.5 334.6L756.2 334.9M749.0 341.3L751.5 339.7M755.1 343.0L754.8 340.9M760.2 341.2L756.8 337.6M762.0 337.1L756.8 336.4M750.3 336.6L751.5 337.2M754.4 333.5L755.5 334.6M758.1 333.0L756.2 334.9M744.1 309.0L746.9 311.3M744.1 309.0L741.4 312.9M741.4 312.9L741.3 313.7M746.4 313.3L746.9 311.3M746.4 313.3L742.2 314.6M741.3 313.7L741.5 314.4M742.2 314.6L741.5 314.4M744.1 307.4L744.1 309.0M744.0 307.3L744.1 307.4M739.6 308.0L741.4 312.9M736.5 311.4L741.3 313.7M747.3 314.0L746.4 313.3M744.4 317.7L742.2 314.6M740.0 315.9L741.5 314.4M744.1 307.4L747.5 307.3M746.9 311.3L748.7 310.0M747.5 307.3L748.7 310.0M751.6 312.0L750.4 310.3M750.4 310.3L748.7 310.0M750.1 306.5L751.7 307.8M753.4 306.0L753.6 306.9M753.6 306.9L751.7 307.8M747.5 307.3L747.9 306.8M750.4 310.3L751.7 307.8M756.8 308.3L753.6 306.9" fill="none" stroke="#c2c2c2" stroke-width="0.4"></path>
<path d="M722.8 356.6L721.6 356.8M722.8 356.6L723.8 356.9M723.8 356.9L724.1 357.9M724.1 357.9L722.5 359.2M722.1 355.4L722.8 356.6M725.1 354.5L723.1 352.5M725.1 354.5L723.8 356.9M730.4 352.8L730.1 350.4M730.4 352.8L733.0 352.2M733.0 352.2L733.4 349.3M733.4 349.3L732.6 348.5M730.1 350.4L732.6 348.5M733.6 349.3L733.4 349.3M732.9 347.0L732.4 347.7M732.4 347.7L732.6 348.5M733.9 353.0L733.0 352.2M727.1 363.8L727.1 363.8M727.1 363.8L727.2 363.8M723.6 361.7L726.1 361.0M725.4 363.8L726.3 363.0M726.3 363.0L726.2 361.1M726.1 361.0L726.2 361.1M725.4 359.0L726.1 361.0M724.1 357.9L725.4 359.0M727.1 363.8L726.3 363.0M725.4 348.0L725.9 348.7M725.4 348.0L725.2 347.0M726.9 348.5L728.5 347.0M726.9 348.5L726.1 348.8M726.1 348.8L725.9 348.7M724.0 350.0L725.9 348.7M724.8 347.9L725.4 348.0M730.1 350.4L726.9 348.5M732.4 347.7L730.9 347.0M729.2 354.4L730.4 352.8M729.2 354.4L727.2 353.6M727.2 353.6L726.1 348.8M727.2 353.6L725.1 354.5M725.4 359.0L729.2 356.3M726.2 361.1L730.2 360.2M730.2 360.2L729.2 356.3M730.7 363.8L731.6 360.9M730.2 360.2L731.6 360.9M734.0 354.8L731.6 355.9M731.6 355.9L732.9 358.1M729.2 354.4L729.6 355.2M731.6 355.9L729.6 355.2M729.6 355.2L729.2 356.3M731.6 360.9L732.0 360.8" fill="none" stroke="#c6c6c6" stroke-width="0.4"></path>
<polygon points="744.4,340.3 749.4,340.3 749.4,346.2 744.4,346.2" fill="#fafafa" stroke="#c4c4c4" stroke-width="0.3"></polygon>
<polygon points="751.6,337.8 756.1,337.8 756.1,346.2 751.6,346.2" fill="#fafafa" stroke="#c4c4c4" stroke-width="0.3"></polygon>
<polygon points="757.8,337.8 760.0,337.8 760.0,344.5 757.8,344.5" fill="#fafafa" stroke="#c4c4c4" stroke-width="0.3"></polygon>
<polygon points="741.8,347.9 760.3,347.9 759.5,352.1 755.3,357.1 748.5,360.5 743.5,357.1 742.7,352.1" fill="#f1f1f1"></polygon>
<path d="M746 348L745 354L748.5,360M752 348L750 355L755 357M756 348L755 352L759 352" fill="none" stroke="#cfcfcf" stroke-width="0.4"></path>
<polyline points="561.1,287.8 558.3,293.4 556.4,301.0" fill="none" stroke="#b9b9b9" stroke-width="0.6"></polyline>
<polyline points="565.8,320.8 577.2,320.8 592.3,320.8 605.5,321.7 614.9,324.6" fill="none" stroke="#b9b9b9" stroke-width="0.6"></polyline>
<polyline points="577.2,320.8 577.2,331.2 564.9,331.2" fill="none" stroke="#b9b9b9" stroke-width="0.6"></polyline>
<polyline points="602.6,287.8 603.6,295.3 607.4,304.8 613.0,312.3 615.8,318.9 614.9,324.6" fill="none" stroke="#b9b9b9" stroke-width="0.6"></polyline>
<polyline points="614.9,324.6 618.7,312.3 624.3,309.5 635.7,308.5" fill="none" stroke="#b9b9b9" stroke-width="0.6"></polyline>
<polyline points="592.3,320.8 592.3,328.3 600.8,328.3 602.6,333.1 598.9,338.7 601.7,344.4 601.7,355.7 595.1,358.5 590.4,354.8 586.6,356.6 586.6,359.5 580.0,359.5 580.9,365.1 577.2,368.9" fill="none" stroke="#b9b9b9" stroke-width="0.6"></polyline>
<polyline points="577.2,372.6 583.0,372.0 586.0,376.0 589.4,377.7 587.5,382.0" fill="none" stroke="#b9b9b9" stroke-width="0.6"></polyline>
<polyline points="614.9,324.6 622.0,330.0 630.0,337.2" fill="none" stroke="#b9b9b9" stroke-width="0.6"></polyline>
<polyline points="679.0,430.1 679.0,446.0 663.6,446.0 663.6,457.6" fill="none" stroke="#b9b9b9" stroke-width="0.6"></polyline>
<polyline points="620.6,387.6 610.0,400.0 600.0,420.0 597.0,431.0" fill="none" stroke="#b9b9b9" stroke-width="0.6"></polyline>
<polyline points="628.1,403.7 632.0,420.0 640.0,440.0 645.0,457.0" fill="none" stroke="#b9b9b9" stroke-width="0.6"></polyline>
<polyline points="726.2,449.0 740.0,452.0 750.3,457.2" fill="none" stroke="#b9b9b9" stroke-width="0.6"></polyline>
<polyline points="735.8,309.5 747.2,308.5 760.4,305.7" fill="none" stroke="#b9b9b9" stroke-width="0.6"></polyline>
<polyline points="760.4,305.7 765.1,314.2 767.9,325.5 764.2,333.1 760.4,347.2" fill="none" stroke="#b9b9b9" stroke-width="0.6"></polyline>
<polyline points="733.0,347.2 760.4,347.2 788.7,362.3" fill="none" stroke="#b9b9b9" stroke-width="0.6"></polyline>
<polyline points="767.9,287.8 775.5,301.0 788.7,302.9" fill="none" stroke="#b9b9b9" stroke-width="0.6"></polyline>
<polyline points="704.5,287.8 708.0,293.0 710.2,299.4" fill="none" stroke="#b9b9b9" stroke-width="0.6"></polyline>
<polyline points="735.8,309.5 737.5,300.0 745.0,290.0 746.0,287.8" fill="none" stroke="#b9b9b9" stroke-width="0.6"></polyline>
<polyline points="722.0,365.0 723.0,377.6 727.3,390.2 731.4,400.6 735.6,406.9 752.4,416.4 760.8,419.5" fill="none" stroke="#b9b9b9" stroke-width="0.6"></polyline>
<polyline points="756.6,417.4 762.9,419.5 766.0,427.9 763.9,436.3 762.9,448.9 767.1,457.2" fill="none" stroke="#b9b9b9" stroke-width="0.6"></polyline>
<polyline points="756.6,419.5 754.5,434.2 752.4,448.9 750.3,457.2" fill="none" stroke="#b9b9b9" stroke-width="0.6"></polyline>
<polyline points="766.0,434.2 775.5,433.1 788.0,434.2" fill="none" stroke="#b9b9b9" stroke-width="0.6"></polyline>
<polyline points="724.3,342.8 730.0,345.0 733.0,347.2 730.0,352.0 724.0,356.0 721.0,361.0" fill="none" stroke="#b9b9b9" stroke-width="0.6"></polyline>
<polyline points="721.5,365.0 728.0,368.0 733.0,372.0 738.0,371.0" fill="none" stroke="#b9b9b9" stroke-width="0.6"></polyline>
<path d="M556.4 328.2L561.8 329.6L554.5 328.4L554.1 322.3M721.3 307.3L719.4 307.6L718.1 309.1L722.4 317.4M606.8 398.0L610.4 394.3L601.4 402.8L597.8 399.4M761.3 387.2L760.8 392.2L752.3 395.9L750.0 388.5M702.5 446.0L697.2 448.3L693.6 452.7L697.6 447.6M745.6 399.5L748.8 405.3L747.6 410.0L754.4 402.8M750.6 354.8L750.2 348.4L753.8 344.7L760.5 340.7M677.4 355.8L679.4 350.3L673.7 354.8L678.2 356.0M768.7 322.9L775.1 316.9L783.4 319.2L785.3 327.6M734.7 422.0L726.6 419.6L719.2 414.1L714.0 420.6M566.8 338.3L566.7 344.6L575.1 348.4L569.9 349.2M714.1 296.8L717.3 294.4L718.9 297.5L722.0 297.9M675.6 321.6L675.5 314.9L675.2 315.5L680.1 313.6M539.6 377.5L534.3 381.8L532.3 379.7L539.6 377.8M623.3 347.0L622.9 339.7L623.8 347.3L624.9 351.7M775.4 430.8L779.8 436.5L785.5 432.0L785.2 429.2M601.1 384.9L597.9 387.1L599.3 380.0L598.3 378.0M714.2 302.9L708.3 303.2L706.6 306.2L703.5 300.7M771.5 329.4L765.1 325.4L762.2 320.5L762.9 328.3M566.6 358.4L569.7 365.3L578.7 358.9L579.3 365.8M548.1 387.8L542.2 392.6L550.1 393.3L541.2 385.4M640.3 431.7L635.5 434.7L633.8 430.5L637.5 427.1M629.1 417.8L629.0 422.9L629.3 416.8L628.3 423.5M678.2 451.6L669.2 448.8L674.1 452.1L675.2 455.1M757.4 403.9L758.2 405.1L761.2 401.9L764.3 404.0M734.4 369.4L725.9 370.1L732.3 372.6L734.9 370.7M625.2 409.9L617.6 416.5L624.4 424.8L617.9 417.9M761.9 356.0L757.7 353.9L760.6 347.8L760.4 350.7M717.8 290.1L723.4 288.9L722.3 290.0L718.3 297.0M588.5 380.0L582.5 382.1L589.8 389.0L583.2 391.3M761.5 322.0L760.0 325.8L764.2 324.9L766.7 328.0M624.4 398.6L625.8 402.1L626.0 399.2L624.8 406.8M582.3 313.2L573.5 319.5L582.3 314.7L578.1 309.3M687.2 370.3L692.9 365.0L699.7 364.4L705.3 369.8M766.1 372.6L768.1 373.7L762.5 373.7L770.2 381.1M540.1 400.5L536.9 394.0L530.5 399.3L538.7 399.6M632.1 374.5L638.0 378.9L630.2 373.7L636.8 373.6M701.8 419.9L704.3 424.1L705.1 419.2L699.4 428.1M537.3 405.2L544.1 400.3L536.0 398.5L532.9 397.8M643.2 447.8L636.4 455.8L628.2 463.6L625.2 467.7M535.4 363.9L538.6 366.2L544.1 359.9L542.3 362.0M541.9 429.7L540.4 425.2L535.4 427.9L527.3 423.3M611.9 331.8L616.0 333.5L623.3 337.1L619.6 334.0M565.9 329.1L567.8 333.3L564.1 330.5L569.6 338.7M556.1 300.1L560.8 300.0L559.5 302.4L564.1 294.7M779.1 450.5L777.6 449.9L773.5 451.5L768.2 452.1M764.5 373.8L770.4 368.1L777.3 361.3L772.1 365.3M611.4 308.2L603.9 313.4L595.3 305.5L603.3 310.5M628.8 320.6L635.4 325.8L638.4 326.4L638.9 335.0M667.4 302.3L659.7 304.0L663.9 306.3L668.3 302.6M628.9 333.0L626.6 328.8L632.7 322.5L627.4 326.3M635.8 345.9L644.3 353.0L639.2 346.8L639.1 348.1M622.7 388.3L625.9 394.0L621.3 396.6L613.4 388.7M548.7 307.7L553.7 305.4L553.6 304.5L548.3 296.4M580.8 433.6L577.9 432.1L573.7 436.5L577.3 434.4M663.3 355.1L664.6 356.8L666.0 364.0L674.1 356.0M631.1 294.8L628.9 300.3L632.1 301.5L624.7 307.1M690.3 339.3L695.4 331.0L689.8 336.2L681.6 329.6M662.1 408.4L663.7 400.1L659.7 403.8L656.9 398.3M535.2 332.6L542.9 324.4L543.9 331.8L547.5 327.9M699.5 308.2L699.4 304.0L706.2 310.6L710.9 308.3M737.2 454.2L734.8 454.6L728.8 447.6L732.7 439.7M687.5 307.3L690.5 311.8L698.4 309.8L696.5 308.0M714.0 421.6L707.1 418.4L699.1 413.7L703.3 421.5M783.8 299.6L782.0 306.3L782.1 303.6L787.2 310.1M571.7 375.7L565.3 370.0L565.9 365.5L571.4 363.1M580.7 394.7L576.4 386.9L585.4 381.2L578.7 380.9M535.6 421.9L528.0 413.6L536.3 413.9L544.1 421.0M721.2 293.0L723.8 285.2L715.0 291.4L711.5 295.8M669.3 421.0L671.8 429.5L671.3 435.9L677.1 437.4M663.3 361.0L665.9 355.5L664.8 358.1L661.4 353.0M561.6 424.4L568.4 430.5L572.1 432.3L564.2 439.2M655.0 404.4L648.2 408.9L641.8 417.1L645.6 417.7M700.7 327.0L700.6 319.5L696.7 315.7L690.7 314.2M550.7 292.4L547.7 301.2L551.7 299.9L546.3 293.1M640.5 398.8L646.3 398.1L652.7 403.7L659.0 400.7M653.3 315.2L654.8 306.9L654.3 300.9L653.9 295.2M535.0 359.5L533.7 360.3L526.9 360.2L523.3 352.7M638.9 401.1L635.3 404.9L640.5 396.2L635.4 392.3M685.2 370.6L686.4 362.9L682.6 356.8L687.0 360.1M612.1 436.6L605.5 427.9L603.3 431.0L611.3 431.1M569.3 389.3L560.6 395.0L557.4 387.9L551.1 393.8M765.0 319.3L774.0 325.8L770.9 317.7L764.6 316.6M586.8 318.9L582.8 325.7L574.4 333.3L573.5 337.5M664.7 448.3L659.0 443.9L659.1 444.1L656.1 440.6M557.3 373.2L563.2 379.8L561.7 388.4L570.1 385.2M564.2 429.7L572.2 432.4L580.5 432.0L580.9 424.4M628.6 444.8L621.5 438.3L613.1 438.2L615.0 438.8M758.0 403.4L760.5 405.3L760.6 397.6L753.4 400.2M588.5 358.5L591.1 360.2L586.5 356.1L580.0 359.0" fill="none" stroke="#d9d9d9" stroke-width="0.4"></path>
<polygon points="530.0,303.8 534.7,303.8 541.3,302.9 550.8,301.9 556.4,301.0 562.1,303.8 564.9,310.4 565.8,319.8 564.0,324.6 562.1,329.3 564.0,332.1 563.0,336.8 559.2,342.5 558.3,346.3 560.2,351.9 564.9,359.5 569.6,367.0 574.3,374.0 577.2,372.6 582.4,381.0 585.6,388.3 588.7,395.7 590.8,404.0 594.0,410.3 590.8,416.6 592.9,422.9 597.1,431.3 596.1,439.7 592.9,446.0 588.7,452.3 586.6,460.0 530.0,460.0" fill="#fbfbfb"></polygon>
<polyline points="722.3,366 723.3,377.6 727.6,390.2 731.7,400.6 735.2,406" fill="none" stroke="#f4f4f4" stroke-width="1.4"></polyline>
<polyline points="760.5,420 764.5,428 762.5,437 761.8,449 765.5,457" fill="none" stroke="#f4f4f4" stroke-width="1.5"></polyline>
<polyline points="776,303 777,309 778.3,316" fill="none" stroke="#f4f4f4" stroke-width="1.3"></polyline>
<polyline points="738,403 742,406" fill="none" stroke="#f7f7f7" stroke-width="1.6"></polyline>
<text x="570.6" y="303.0" class="ml" textLength="26" lengthAdjust="spacingAndGlyphs">Cameroun</text>
<text x="574.5" y="342.3" class="ml" textLength="15.6" lengthAdjust="spacingAndGlyphs">Gabon</text>
<text x="621.3" y="445.0" class="ml" textLength="16.7" lengthAdjust="spacingAndGlyphs">Angola</text>
<text x="739.6" y="323.8" class="ml" textLength="22.7" lengthAdjust="spacingAndGlyphs">Ouganda</text>
<text x="750.3" y="386.0" class="ml" textLength="23.1" lengthAdjust="spacingAndGlyphs">Tanzanie</text>
<text x="776.5" y="452.8" class="ml" textLength="12.5" lengthAdjust="spacingAndGlyphs">Moza</text>
<polygon points="636.6,303.2 640.4,298.5 645.1,297.2 650.8,300.4 655.5,302.3 663.0,302.8 670.6,300.4 678.1,299.1 685.7,297.9 692.3,295.3 698.9,296.6 704.5,296.6 710.2,299.4 715.8,302.8 724.3,302.3 729.1,306.0 732.8,308.9 734.7,314.5 737.5,320.2 734.7,324.9 730.9,329.6 728.1,336.2 724.3,342.8 723.4,348.5 720.6,354.2 719.6,361.7 720.6,369.2 720.6,376.3 722.5,385.8 725.3,393.3 729.1,400.8 732.8,408.4 720.6,410.3 715.8,415.9 717.7,423.5 716.8,432.0 720.6,437.6 724.3,440.5 726.8,439.5 726.2,449.0 721.5,449.0 717.7,444.2 712.1,440.5 704.5,437.6 695.1,436.7 690.4,433.9 682.8,432.9 680.0,430.1 665.8,430.1 666.8,421.6 663.0,414.1 662.1,399.9 652.6,399.9 651.7,397.1 643.2,398.0 642.3,404.6 628.1,403.7 623.4,398.0 620.6,387.6 598.9,387.3 585.3,387.6 587.5,382.0 594.2,379.2 600.8,376.3 608.3,376.3 614.9,372.5 614.9,365.5 616.8,357.0 620.6,350.4 626.2,344.7 630.0,337.2 631.9,327.7 633.8,318.3 635.7,310.8" fill="#4b9c48" stroke="#5d7a5a" stroke-width="0.5"></polygon>
<polygon points="647.0,306.6 652.6,308.5 658.3,307.9 659.2,309.8 653.6,311.1 647.9,308.9" fill="#bfb1ad"></polygon>
<polygon points="647.0,312.6 649.8,312.6 649.8,315.5 647.0,315.5" fill="#bfb1ad"></polygon>
<polygon points="667.7,319.8 671.5,319.8 671.5,322.5 667.7,322.5" fill="#bfb1ad"></polygon>
<polygon points="729.6,307.9 732.5,308.4 733.2,311.1 730.0,311.1" fill="#bfb1ad"></polygon>
<polygon points="696.1,339.5 700.5,342.5 705.6,343.2 710.8,344.7 708.6,346.9 704.9,348.3 707.1,351.3 710.0,355.0 706.4,357.2 702.7,353.5 699.0,350.6 697.6,346.1 698.3,343.2" fill="#bfb1ad"></polygon>
<polygon points="663.8,358.6 666.7,354.7 671.9,355.2 673.3,359.4 671.1,363.0 666.7,363.0" fill="#bfb1ad"></polygon>
<polygon points="677.0,361.6 685.8,356.4 694.6,355.0 699.0,357.9 702.7,359.4 704.2,365.2 703.4,371.1 705.6,371.8 713.0,374.8 716.7,377.0 718.1,380.6 704.2,380.6 699.0,379.9 693.2,380.6 688.0,378.4 686.6,374.0 682.9,374.8 679.2,373.3 674.8,374.0 678.5,368.9 677.8,365.2" fill="#bfb1ad"></polygon>
<polygon points="677.0,377.0 679.2,380.6 680.7,386.5 684.4,389.4 686.6,391.7 684.4,393.1 680.7,391.7 678.5,386.5 677.0,381.4" fill="#bfb1ad"></polygon>
<polygon points="617.7,365.3 624.8,364.6 627.2,371.6 622.5,375.6 616.2,372.3" fill="#bfb1ad"></polygon>
<polygon points="633.8,368.0 638.0,368.5 641.3,371.5 641.3,374.4 636.0,373.5" fill="#bfb1ad"></polygon>
<polygon points="596.0,382.9 599.8,382.9 599.8,386.7 596.0,386.7" fill="#bfb1ad"></polygon>
<polygon points="587.5,381.2 593.2,380.1 593.2,383.9 588.5,383.9" fill="#bfb1ad"></polygon>
<polygon points="624.3,388.6 627.2,389.5 627.0,394.2 624.8,393.5" fill="#bfb1ad"></polygon>
<polygon points="664.5,392.4 667.5,392.4 667.5,394.6 664.5,394.6" fill="#bfb1ad"></polygon>
<polygon points="668.9,393.1 671.9,393.1 671.9,396.0 668.9,396.0" fill="#bfb1ad"></polygon>
<polygon points="686.6,399.0 691.3,402.7 694.2,407.5 688.5,409.3 683.8,408.4 684.7,402.7" fill="#bfb1ad"></polygon>
<polygon points="699.8,372.6 704.2,373.0 704.2,377.0 700.2,377.0" fill="#4b9c48"></polygon>
<polygon points="685.7,324.9 691.3,322.1 695.1,321.1 699.8,322.1 700.8,324.0 697.0,326.8 694.2,328.7 692.3,326.8 688.5,326.8" fill="#e8505b"></polygon>
<path d="M631.9 328.3L635.5 331.5M631.9 328.3L633.1 324.9M633.1 324.9L635.4 324.2M635.4 324.2L638.3 329.1M638.3 329.1L637.0 331.1M637.0 331.1L635.5 331.5M632.5 324.6L633.1 324.9M631.9 328.3L631.8 328.4M632.7 334.8L635.5 331.5M632.7 334.8L631.1 334.8M631.1 334.8L630.7 333.9M630.4 335.3L631.1 334.8M618.6 357.3L617.5 357.7M618.5 354.1L618.6 357.3M617.5 357.7L616.7 357.3M647.2 372.5L642.5 377.6M647.2 372.5L647.2 372.1M647.2 372.1L643.1 368.7M642.5 377.6L641.0 377.4M641.0 377.4L639.5 371.5M639.5 371.5L639.8 370.9M639.8 370.9L643.1 368.7M640.7 377.6L635.1 377.7M640.7 377.6L641.0 377.4M639.5 371.5L633.7 373.3M635.1 377.7L633.7 373.3M588.4 386.7L586.5 384.5M588.4 386.7L587.9 387.5M635.1 377.7L633.3 379.9M638.3 384.7L637.8 384.8M638.3 384.7L640.7 377.6M637.8 384.8L633.3 379.9M622.7 387.8L625.8 387.9M626.3 388.6L625.8 387.9M621.5 391.0L622.5 387.9M622.5 387.9L622.7 387.8M626.3 388.6L626.0 394.0M626.0 394.0L622.8 395.6M626.8 402.1L627.4 402.5M627.4 402.9L627.4 402.5M630.2 395.9L630.4 396.3M630.4 396.3L630.0 400.1M626.0 394.0L630.2 395.9M627.4 402.5L630.0 400.1M621.7 350.5L619.9 351.6M621.7 350.5L621.2 349.8M710.9 351.5L710.2 354.4M710.9 351.5L717.4 351.0M717.4 351.0L717.7 351.2M717.1 353.1L717.7 351.2M717.1 353.1L712.6 356.3M710.2 354.4L712.6 356.3M711.2 364.8L710.3 363.4M711.2 364.8L716.1 361.5M716.1 361.5L712.8 358.4M712.8 358.4L710.3 363.4M717.9 357.4L712.8 356.7M718.3 356.7L717.9 357.4M718.3 356.7L717.1 353.1M712.8 356.7L712.6 356.3M705.6 356.0L703.7 350.5M710.2 354.4L705.6 356.0M710.6 349.8L706.9 347.5M710.9 351.5L710.6 349.8M706.9 347.5L703.7 350.5M718.3 356.7L720.4 355.6M719.0 351.0L717.7 351.2M719.0 351.0L719.3 351.1M719.3 351.1L721.1 353.2M724.0 344.8L722.0 344.5M722.0 344.5L722.6 349.1M722.6 349.1L723.0 349.3M719.3 351.1L722.6 349.1M643.1 368.7L643.3 367.4M640.8 363.2L643.3 367.4M640.8 363.2L639.3 362.6M639.8 370.9L635.6 366.6M639.3 362.6L635.6 366.6M632.2 367.1L632.5 366.9M632.2 367.1L631.0 371.6M631.0 371.6L633.7 373.3M632.5 366.9L635.6 366.6M622.7 350.7L622.7 350.7M621.7 350.5L622.7 350.7M618.6 357.3L621.2 358.2M621.2 358.2L623.8 356.1M622.7 350.7L623.8 356.1M620.9 380.9L624.7 377.4M618.2 376.5L620.9 380.9M618.2 376.5L621.0 375.3M621.0 375.3L624.7 377.4M617.7 376.5L618.2 376.5M617.7 376.5L615.9 377.9M620.9 380.9L620.9 381.7M620.9 381.7L616.3 382.4M616.3 382.4L615.9 377.9M604.2 385.6L604.2 387.4M604.2 385.6L599.7 386.7M599.7 386.7L599.6 387.3M593.2 386.3L598.4 385.4M599.7 386.7L598.4 385.4M593.2 386.3L593.5 387.4M592.2 385.5L589.1 381.3M592.2 385.5L592.4 385.5M592.4 385.5L593.3 383.4M593.3 383.4L592.1 380.1M588.4 386.7L592.2 385.5M593.2 386.3L592.4 385.5M598.8 382.8L597.0 380.6M598.8 382.8L602.3 382.0M597.0 380.6L601.7 377.3M602.3 382.0L602.8 378.2M601.7 377.3L602.8 378.2M596.8 380.5L593.3 383.4M596.8 380.5L597.0 380.6M598.4 385.4L598.8 382.8M604.5 385.3L604.2 385.6M604.5 385.3L602.3 382.0M630.7 383.3L632.7 380.0M630.7 383.3L626.9 383.7M632.7 380.0L627.4 376.7M626.9 383.7L626.1 382.4M626.1 382.4L626.3 377.5M627.4 376.7L626.3 377.5M621.2 385.0L621.5 382.6M622.7 387.8L621.2 385.0M625.8 387.9L626.9 383.7M621.5 382.6L626.1 382.4M624.7 377.4L626.3 377.5M621.5 382.6L620.9 381.7M632.1 392.4L636.8 392.0M632.1 392.4L630.9 388.9M636.8 392.0L635.7 386.8M630.9 388.9L632.8 386.9M632.8 386.9L635.7 386.8M630.2 395.9L632.1 392.4M626.3 388.6L630.9 388.9M630.7 383.3L632.8 386.9M637.8 384.8L635.7 386.8M633.3 379.9L632.7 380.0M630.0 400.1L636.1 402.7M636.1 402.7L635.5 404.2M642.5 377.6L643.5 378.5M647.2 372.5L650.9 378.9M650.9 378.9L650.3 379.3M643.5 378.5L650.3 379.3M614.9 369.1L617.6 367.7M617.6 367.7L615.1 364.4M621.2 358.2L622.0 361.1M622.0 361.1L620.3 363.9M617.5 357.7L616.1 360.0M620.3 363.9L615.5 363.0M726.8 338.5L724.9 337.4M729.5 332.8L727.7 332.1M724.9 337.4L727.7 332.1M723.9 337.5L724.9 337.4M723.9 337.5L720.8 334.7M726.7 328.8L720.0 331.8M727.7 332.1L726.7 328.8M720.8 334.7L720.0 331.8M719.3 331.2L720.0 331.8M715.5 338.3L714.1 336.2M715.5 338.3L720.8 334.7M716.5 331.1L719.3 331.2M716.5 331.1L716.2 331.3M716.2 331.3L714.1 336.2M705.3 339.3L708.5 338.2M705.3 339.3L705.5 343.9M708.5 338.2L711.9 341.4M705.5 343.9L706.1 344.4M706.1 344.4L711.4 343.1M711.4 343.1L711.9 341.4M715.4 339.5L711.9 341.4M715.5 338.3L715.4 339.5M710.2 334.7L714.1 336.2M710.2 334.7L708.5 338.2M701.5 344.9L700.7 349.2M701.5 344.9L705.5 343.9M703.7 350.5L700.7 349.2M706.9 347.5L706.1 344.4M710.6 349.8L713.0 346.4M713.0 346.4L711.4 343.1M712.8 358.4L712.8 356.7M705.6 356.0L705.6 356.0M710.3 363.4L706.4 361.5M705.6 356.0L705.2 358.2M705.2 358.2L706.4 361.5M651.4 369.8L647.2 372.1M651.4 369.8L650.7 366.7M643.3 367.4L647.8 364.7M650.7 366.7L647.8 364.7M646.4 359.5L647.5 359.6M640.8 363.2L646.4 359.5M647.8 364.7L647.5 359.6M648.0 352.2L644.5 350.2M644.5 350.2L643.4 350.6M642.3 356.1L643.4 350.6M648.0 352.2L648.1 359.2M646.4 359.5L642.3 356.1M648.1 359.2L647.5 359.6M663.7 370.9L664.3 369.8M663.7 370.9L659.4 372.0M664.3 369.8L663.2 365.3M663.2 365.3L657.3 366.1M659.4 372.0L655.9 369.8M655.9 369.8L657.3 366.1M632.7 334.8L635.3 339.2M640.2 335.6L639.7 337.2M640.2 335.6L637.0 331.1M639.7 337.2L635.6 339.3M635.3 339.2L635.6 339.3M639.7 337.2L643.5 341.6M643.5 341.6L638.4 344.6M635.6 339.3L638.4 344.6M642.3 356.1L637.5 358.4M639.3 362.6L637.4 358.8M637.5 358.4L637.4 358.8M632.5 366.9L632.3 360.4M637.4 358.8L632.3 360.4M626.7 364.9L632.2 367.1M626.3 362.5L629.4 358.9M626.7 364.9L626.3 362.5M632.3 360.4L629.4 358.9M626.3 362.5L622.0 361.1M623.8 356.1L628.6 356.7M629.4 358.9L628.6 356.7M628.7 372.7L628.6 372.9M628.7 372.7L624.3 367.5M628.6 372.9L621.7 372.1M624.3 367.5L621.3 367.9M621.7 372.1L620.7 369.3M620.7 369.3L620.9 368.5M621.3 367.9L620.9 368.5M627.4 376.7L628.6 372.9M631.0 371.6L628.7 372.7M626.7 364.9L624.3 367.5M621.0 375.3L621.7 372.1M620.3 363.9L621.3 367.9M617.7 376.5L615.9 372.4M615.9 372.4L620.7 369.3M615.9 372.4L614.9 371.9M617.6 367.7L620.9 368.5M601.5 376.8L601.6 376.3M601.5 376.8L600.3 376.5M606.6 378.0L607.2 376.6M606.6 378.0L608.7 380.4M607.2 376.6L607.9 376.3M608.8 376.0L611.7 375.0M608.7 380.4L609.8 380.7M609.8 380.7L613.2 377.7M611.7 375.0L613.2 377.7M602.8 378.2L606.6 378.0M601.7 377.3L601.5 376.8M607.2 376.3L607.2 376.6M604.5 385.3L604.6 385.2M604.6 385.2L608.7 380.4M611.8 374.3L611.7 375.0M615.9 377.9L613.2 377.7M596.7 380.3L596.5 378.2M596.7 380.3L594.4 379.1M596.8 380.5L596.7 380.3M726.7 440.5L726.3 441.4M726.6 442.3L726.3 442.2M726.3 441.4L726.3 442.2M726.3 447.5L725.1 443.4M725.1 443.4L726.3 442.2M636.5 396.9L638.5 394.3M636.5 396.9L637.0 402.2M638.5 394.3L643.1 398.7M637.0 402.2L639.2 402.4M639.2 402.4L642.9 399.9M636.8 392.0L638.6 393.3M630.4 396.3L636.5 396.9M638.6 393.3L638.5 394.3M636.1 402.7L637.0 402.2M640.5 404.5L639.2 402.4M650.2 397.1L647.3 395.4M647.3 395.4L644.4 397.9M650.2 397.3L650.2 397.1M653.1 370.6L655.9 369.8M653.1 370.6L653.9 378.2M659.4 372.0L657.4 377.8M657.4 377.8L653.9 378.2M653.1 370.6L651.4 369.8M650.9 378.9L653.0 378.8M653.9 378.2L653.0 378.8M734.8 314.7L734.7 317.1M734.7 317.1L736.6 318.4M731.9 328.3L731.5 327.3M726.7 328.8L727.0 328.1M727.0 328.1L731.5 327.3M734.2 325.6L733.4 325.3M731.5 327.3L733.4 325.3M736.8 321.4L732.9 321.7M733.4 325.3L732.9 321.7M734.7 317.1L732.6 321.3M732.9 321.7L732.6 321.3M726.1 303.7L725.1 304.8M723.5 302.3L724.4 304.6M724.4 304.6L725.1 304.8M717.0 341.0L714.9 346.4M717.0 341.0L720.9 342.5M719.7 345.6L715.5 346.7M719.7 345.6L721.3 344.1M715.5 346.7L714.9 346.4M720.9 342.5L721.3 344.1M715.4 339.5L717.0 341.0M713.0 346.4L714.9 346.4M723.9 337.5L720.9 342.5M719.0 351.0L719.7 345.6M717.4 351.0L715.5 346.7M722.0 344.5L721.3 344.1M640.2 335.6L644.5 333.8M645.3 341.8L643.5 341.6M645.3 341.8L646.5 340.4M646.5 340.4L645.8 334.9M644.5 333.8L645.8 334.9M636.5 304.5L637.6 304.2M637.1 302.6L637.6 304.2M635.7 310.5L636.2 310.6M637.6 304.2L639.5 305.3M639.5 305.3L639.6 308.8M636.2 310.6L639.6 308.8M696.4 367.2L698.8 373.2M696.4 367.2L691.9 370.8M696.8 374.6L698.8 373.2M696.8 374.6L693.0 374.0M693.0 374.0L691.9 370.8M655.0 385.3L660.1 382.5M654.5 385.3L655.0 385.3M653.0 378.8L654.5 385.3M657.4 377.8L660.3 379.5M660.1 382.5L660.3 379.5M665.0 375.8L663.1 378.7M665.0 375.8L663.7 370.9M663.1 378.7L660.3 379.5M700.7 349.2L698.1 350.4M705.6 356.0L699.8 354.8M699.8 354.8L698.1 350.4M682.9 366.8L686.4 371.0M682.9 366.8L685.1 362.5M685.1 362.5L685.3 362.3M685.3 362.3L689.6 366.3M689.6 366.3L689.8 369.5M689.8 369.5L686.4 371.0M678.7 371.3L678.1 368.9M678.7 371.3L683.9 374.4M678.1 368.9L682.9 366.8M685.3 374.1L686.4 371.0M683.9 374.4L685.3 374.1M685.3 374.1L688.1 376.8M693.0 374.0L690.3 376.9M688.1 376.8L690.3 376.9M691.9 370.8L689.8 369.5M693.8 361.3L694.6 364.1M693.8 361.3L697.0 358.0M700.2 360.4L699.6 365.1M700.2 360.4L697.0 358.0M694.6 364.1L696.7 365.9M696.7 365.9L699.6 365.1M689.6 366.3L694.6 364.1M686.2 360.4L685.3 362.3M688.8 358.9L686.2 360.4M688.8 358.9L693.8 361.3M702.8 366.3L699.6 365.1M702.8 366.3L706.4 361.5M705.2 358.2L700.2 360.4M699.8 354.8L697.0 357.8M697.0 357.8L697.0 358.0M696.4 367.2L696.7 365.9M650.7 366.7L654.1 363.1M648.1 359.2L649.8 359.2M654.1 363.1L649.8 359.2M657.3 366.1L655.1 363.0M654.1 363.1L655.1 363.0M663.2 365.3L663.5 364.1M655.1 363.0L657.6 359.7M663.5 364.1L657.6 359.7M653.8 356.3L657.6 359.0M649.8 359.2L653.8 356.3M657.6 359.7L657.6 359.0M643.4 350.6L639.7 349.5M637.5 358.4L636.1 354.8M639.7 349.5L636.1 354.8M645.3 341.8L646.4 345.5M646.4 345.5L644.5 350.2M638.4 344.6L637.6 347.0M639.7 349.5L637.6 347.0M628.6 356.7L630.7 352.4M636.1 354.8L630.7 352.4M622.7 350.7L630.5 351.3M630.5 351.3L630.7 352.4M609.3 387.4L609.2 387.1M609.2 387.1L612.0 384.0M615.8 387.5L615.5 385.6M612.0 384.0L615.0 384.6M615.5 385.6L615.0 384.6M604.6 385.2L609.2 387.1M609.8 380.7L612.0 384.0M621.2 385.0L615.5 385.6M622.5 387.9L620.8 388.2M616.3 382.4L615.0 384.6M717.9 357.4L718.4 359.1M716.1 361.5L718.0 361.8M718.4 359.1L718.0 361.8M718.4 359.1L720.0 358.9M709.5 439.5L710.2 438.6M704.3 437.6L706.1 436.0M706.1 436.0L710.2 438.6M725.1 443.4L721.0 444.9M721.0 444.9L722.2 449.0M654.1 390.6L653.3 395.3M654.1 390.6L657.7 391.4M657.7 391.4L658.1 392.7M658.1 392.7L656.1 396.3M656.1 396.3L653.3 395.3M658.8 387.4L655.0 385.3M658.8 387.4L658.8 390.3M653.6 386.5L653.4 389.8M653.4 389.8L654.1 390.6M658.8 390.3L657.7 391.4M653.6 386.5L654.5 385.3M658.8 390.3L663.2 390.4M663.5 394.9L664.3 392.9M663.2 390.4L664.3 392.9M661.4 395.2L658.1 392.7M661.4 395.2L663.5 394.9M658.2 398.5L661.4 395.2M657.7 398.5L656.1 396.3M657.7 398.5L658.2 398.5M656.2 399.9L657.7 398.5M650.2 397.1L653.3 395.3M724.4 304.6L721.5 305.3M721.5 305.3L719.5 302.6M643.5 378.5L644.3 383.1M650.3 379.3L647.8 384.1M647.8 384.1L644.3 383.1M653.6 386.5L648.3 385.4M647.8 384.1L648.3 385.4M638.3 384.7L641.2 386.1M644.3 383.1L641.2 386.1M726.2 325.6L730.9 320.8M730.9 320.8L728.5 318.6M726.2 325.6L725.6 321.2M725.6 321.2L728.5 318.6M730.9 320.8L732.6 321.3M734.4 313.7L731.8 313.7M731.8 313.7L727.8 316.4M728.5 318.6L727.8 316.4M723.1 310.8L725.6 315.7M723.1 310.8L721.0 310.7M721.0 310.7L718.3 314.1M718.6 315.4L718.3 314.1M718.6 315.4L725.1 315.9M725.1 315.9L725.6 315.7M717.9 318.0L717.9 318.2M717.9 318.0L718.6 315.4M725.1 315.9L723.3 318.9M717.9 318.2L723.3 318.9M726.6 315.8L725.6 315.7M725.6 321.2L723.6 320.6M727.8 316.4L726.6 315.8M723.3 318.9L723.6 320.6M731.8 313.7L729.6 310.6M726.6 315.8L727.4 311.1M727.4 311.1L729.6 310.6M723.1 310.8L725.1 309.3M727.4 311.1L725.1 309.3M719.6 307.6L721.0 310.7M721.5 305.3L719.6 307.6M725.1 304.8L726.1 306.5M726.1 306.5L725.1 309.3M710.2 334.7L710.0 334.1M716.2 331.3L710.7 332.4M710.7 332.4L710.0 334.1M633.9 317.9L635.2 318.2M636.2 310.6L637.2 316.0M635.2 318.2L637.2 316.0M635.4 324.2L636.8 321.6M635.2 318.2L636.8 321.6M661.7 385.5L661.8 385.3M661.7 385.5L663.3 390.1M661.8 385.3L666.6 384.2M663.3 390.1L666.6 387.4M666.6 387.4L666.6 384.2M658.8 387.4L661.7 385.5M660.1 382.5L661.8 385.3M663.2 390.4L663.3 390.1M666.9 382.7L663.1 378.7M666.8 384.0L666.6 384.2M666.9 382.7L666.8 384.0M664.3 392.9L668.8 392.0M668.6 389.4L668.8 392.0M668.6 389.4L666.6 387.4M672.1 386.1L666.8 384.0M672.1 386.1L668.6 389.4M697.0 357.8L692.9 353.4M688.8 358.9L690.2 354.9M690.2 354.9L692.9 353.4M670.5 369.7L664.3 369.8M670.5 369.7L670.5 362.9M663.5 364.1L665.8 361.7M670.5 362.9L665.8 361.7M688.1 376.8L685.1 381.7M683.9 374.4L681.8 377.4M685.1 381.7L681.8 377.4M678.7 371.3L677.2 374.5M677.2 374.5L679.3 378.2M681.8 377.4L679.3 378.2M692.3 380.7L690.3 376.9M692.3 380.7L689.7 383.9M685.1 381.7L685.0 382.9M689.7 383.9L685.0 382.9M679.3 378.2L678.7 379.6M678.7 379.6L683.8 383.9M685.0 382.9L683.8 383.9M669.5 397.3L669.8 401.1M673.1 402.3L669.8 401.1M669.5 397.3L671.3 395.4M673.1 402.3L674.9 398.5M674.9 398.5L671.3 395.4M672.1 386.1L672.2 386.1M668.8 392.0L671.4 393.5M674.1 387.9L673.1 392.2M672.2 386.1L674.1 387.9M673.1 392.2L671.4 393.5M664.9 397.3L669.5 397.3M663.5 394.9L664.9 397.3M671.4 393.5L671.3 395.4M631.0 349.3L633.0 347.5M631.0 349.3L625.8 345.1M633.0 347.5L631.5 342.0M631.5 342.0L628.2 341.0M628.2 341.0L628.0 341.2M637.6 347.0L633.0 347.5M630.5 351.3L631.0 349.3M622.7 350.7L624.6 346.3M635.3 339.2L631.5 342.0M628.2 340.7L628.2 341.0M698.8 373.2L699.1 373.2M702.8 366.3L704.3 369.4M699.1 373.2L704.3 369.4M711.2 364.9L708.3 370.5M711.2 364.8L711.2 364.9M708.3 370.5L707.5 370.8M704.3 369.4L707.5 370.8M719.2 376.1L720.6 375.1M719.2 376.1L716.4 373.3M720.6 372.5L719.1 369.1M716.4 373.3L719.1 369.1M669.5 430.1L669.7 424.5M669.7 424.5L666.6 423.0M669.7 424.5L670.9 423.9M666.3 420.6L667.9 417.3M670.9 423.9L673.3 420.2M667.9 417.3L673.3 420.2M718.1 444.7L719.4 444.2M713.4 441.4L713.0 439.5M719.4 444.0L719.4 444.2M719.4 444.0L715.8 438.4M713.0 439.5L715.8 438.4M721.0 444.9L719.4 444.2M710.2 438.6L711.0 438.4M711.0 438.4L713.0 439.5M718.9 435.1L718.3 435.7M720.8 437.9L721.0 437.9M720.8 437.9L718.3 435.8M718.3 435.8L718.3 435.7M726.3 441.4L725.0 440.2M719.4 444.0L720.8 437.9M715.8 438.4L718.3 435.8M712.1 434.5L711.0 438.4M712.1 434.5L716.6 433.8M716.6 433.8L718.3 435.7M718.4 302.6L716.5 304.1M715.9 302.8L716.5 304.1M719.6 307.6L716.5 306.8M716.5 306.8L716.2 304.9M716.5 304.1L716.2 304.9M706.8 297.7L707.1 300.6M711.9 300.4L710.9 301.6M707.1 300.6L710.9 301.6M703.1 296.6L700.5 297.9M700.5 297.9L700.5 299.1M700.5 299.1L703.2 303.2M707.1 300.6L703.2 303.2M716.2 304.9L711.1 302.6M710.9 301.6L711.1 302.6M641.6 391.3L647.1 394.6M641.6 391.3L642.3 388.2M642.3 388.2L647.0 387.9M647.0 387.9L648.6 391.1M647.1 394.6L648.6 391.1M647.3 395.4L647.1 394.6M638.6 393.3L641.6 391.3M641.2 386.1L642.3 388.2M648.3 385.4L647.0 387.9M653.4 389.8L648.6 391.1M676.4 409.1L678.2 408.5M677.5 404.3L678.2 408.5M677.5 404.3L673.4 403.1M673.4 403.1L672.2 405.6M676.4 409.1L673.4 408.0M673.4 408.0L672.2 405.6M721.5 322.3L717.9 322.5M721.5 322.3L726.0 326.1M719.7 326.5L717.8 322.8M719.7 326.5L726.0 326.2M717.9 322.5L717.7 322.7M726.0 326.2L726.0 326.1M717.8 322.8L717.7 322.7M723.6 320.6L721.5 322.3M717.9 318.2L717.9 322.5M726.2 325.6L726.0 326.1M714.8 328.8L717.8 322.8M716.5 331.1L714.8 328.8M719.3 331.2L719.7 326.5M727.0 328.1L726.0 326.2M732.3 308.5L729.8 309.1M729.8 309.1L728.4 306.9M729.4 306.2L728.4 306.9M729.6 310.6L729.8 309.1M726.1 306.5L728.4 306.9M703.1 337.6L702.7 336.1M703.1 337.6L699.6 340.4M702.7 336.1L697.6 333.8M699.6 340.4L695.8 338.7M695.8 338.7L697.6 333.8M705.3 339.3L703.1 337.6M710.0 334.1L704.9 332.6M704.9 332.6L702.7 336.1M701.5 344.9L699.6 343.5M699.6 343.5L699.6 340.4M697.8 321.6L703.4 328.9M697.8 321.6L695.3 327.5M703.4 328.9L696.8 331.3M695.3 327.5L696.8 331.3M696.7 331.9L696.8 331.3M697.6 333.8L696.7 331.9M704.9 332.6L704.2 329.1M704.2 329.1L703.4 328.9M717.9 318.0L715.6 317.8M717.7 322.7L712.1 323.2M715.6 317.8L709.8 320.1M709.8 320.1L712.1 323.2M714.8 328.8L710.6 327.2M712.1 323.2L710.6 327.2M704.2 329.1L706.2 327.4M710.7 332.4L710.2 327.5M706.2 327.4L710.2 327.5M710.6 327.2L710.2 327.5M646.5 340.4L652.1 339.5M645.8 334.9L650.9 333.8M650.9 333.8L652.1 339.5M646.4 345.5L653.5 346.2M653.5 346.2L652.7 339.8M652.1 339.5L652.7 339.8M639.6 308.8L641.4 310.1M637.2 316.0L641.5 315.7M641.4 310.1L641.5 315.7M651.1 333.5L658.0 332.7M658.0 332.7L657.2 328.9M650.1 329.0L651.1 333.5M650.1 329.0L655.7 327.8M655.7 327.8L657.2 328.9M650.9 333.8L651.1 333.5M644.5 333.8L644.5 330.7M650.1 329.0L649.4 328.5M649.4 328.5L644.5 330.7M638.3 329.1L641.7 328.0M641.7 328.0L644.5 330.7M683.8 396.6L678.9 395.0M683.8 396.6L681.6 399.7M681.6 399.7L678.3 399.3M678.9 395.0L677.4 398.0M678.3 399.3L677.4 398.0M678.6 403.1L678.3 399.3M678.6 403.1L682.6 403.1M683.0 402.5L682.6 403.1M683.0 402.5L681.6 399.7M678.5 393.6L673.1 392.2M678.5 393.6L678.9 395.0M674.9 398.5L677.4 398.0M673.4 403.1L673.1 402.3M677.5 404.3L678.6 403.1M667.5 403.0L667.8 402.4M667.5 403.0L662.3 403.7M667.8 402.4L664.6 398.8M664.6 398.8L662.2 401.1M672.2 405.6L668.2 406.4M668.2 406.4L667.5 403.0M669.8 401.1L667.8 402.4M664.9 397.3L664.6 398.8M658.2 398.5L659.5 399.9M698.1 350.4L696.8 350.2M692.9 353.4L693.5 352.1M696.8 350.2L693.5 352.1M699.6 343.5L695.3 344.9M696.8 350.2L695.3 344.9M677.4 368.5L675.9 363.3M677.4 368.5L671.0 370.0M671.0 370.0L670.5 369.7M670.5 362.9L671.7 362.4M675.9 363.3L671.7 362.4M685.1 362.5L677.8 361.0M678.1 368.9L677.4 368.5M675.9 363.3L677.8 361.0M673.1 383.2L676.2 381.1M673.1 383.2L669.8 380.2M676.2 381.1L672.2 376.3M669.8 380.2L670.7 376.8M670.7 376.8L671.7 376.2M671.7 376.2L672.2 376.3M672.2 386.1L673.1 383.2M674.1 387.9L675.8 387.6M677.6 384.0L675.8 387.6M677.6 384.0L676.3 381.2M676.3 381.2L676.2 381.1M666.9 382.7L669.8 380.2M676.3 381.2L678.7 379.6M677.2 374.5L672.2 376.3M665.0 375.8L670.7 376.8M671.0 370.0L671.7 376.2M681.6 385.2L683.6 384.3M681.6 385.2L679.2 389.2M683.6 384.3L686.0 390.3M679.2 389.2L679.9 391.1M679.9 391.1L685.3 391.0M685.3 391.0L686.0 390.3M677.6 384.0L681.6 385.2M683.8 383.9L683.6 384.3M675.8 387.6L679.2 389.2M691.8 389.2L689.7 383.9M691.8 389.2L689.8 390.1M689.8 390.1L686.0 390.3M678.5 393.6L679.9 391.1M684.9 396.4L685.3 391.0M684.9 396.4L683.8 396.6M713.7 373.1L716.4 373.3M713.7 373.1L712.5 379.4M719.2 376.1L719.0 376.8M712.5 379.4L719.0 376.8M699.1 373.2L703.5 377.6M707.5 370.8L706.9 375.3M703.5 377.6L706.9 375.3M712.5 379.4L712.0 380.2M713.7 373.1L712.9 372.2M708.3 370.5L712.9 372.2M706.9 375.3L712.0 380.2M713.6 365.9L715.1 369.0M713.6 365.9L720.0 364.7M715.1 369.0L719.1 369.0M719.1 369.0L720.3 367.2M720.0 364.7L720.0 364.8M711.2 364.9L713.6 365.9M712.9 372.2L715.1 369.0M718.0 361.8L720.0 364.7M719.1 369.1L719.1 369.0M716.6 433.8L716.3 430.4M717.0 430.3L716.3 430.4M712.1 434.5L709.9 430.6M709.9 430.6L715.0 429.5M716.3 430.4L716.0 429.9M715.0 429.5L716.0 429.9M673.3 414.3L667.9 417.2M673.3 414.3L670.1 411.2M667.5 410.6L670.1 411.2M667.5 410.6L666.2 414.7M666.2 414.7L667.9 417.2M673.5 414.3L676.4 409.1M673.5 414.3L673.3 414.3M673.4 408.0L670.1 411.2M668.2 406.4L666.6 409.2M666.6 409.2L667.5 410.6M663.6 415.3L666.2 414.7M667.9 417.3L667.9 417.2M699.9 428.0L698.6 422.9M696.2 422.7L698.6 422.9M699.9 428.0L697.4 430.8M696.2 422.7L694.2 426.9M694.2 426.9L697.4 430.8M693.7 435.9L693.0 433.1M699.5 433.5L699.4 437.1M699.5 433.5L697.4 430.8M697.4 430.8L693.0 433.1M690.2 433.9L692.2 432.9M693.0 433.1L692.2 432.9M694.2 426.9L691.5 427.1M692.2 432.9L690.4 429.3M697.4 430.8L697.4 430.8M690.4 429.3L691.5 427.1M686.6 433.4L686.4 429.4M690.4 429.3L686.4 429.4M678.9 408.8L679.2 413.5M678.2 408.5L678.9 408.8M673.5 414.3L675.0 416.2M679.2 413.5L675.0 416.2M674.6 419.3L675.2 416.9M674.6 419.3L678.9 423.0M679.9 422.4L678.9 423.0M679.9 422.4L680.6 417.8M680.6 417.8L675.2 416.9M674.6 419.3L673.3 420.2M675.2 416.9L675.0 416.2M665.8 409.0L662.4 405.0M665.8 409.0L662.8 410.3M666.6 409.2L665.8 409.0M681.5 315.1L680.8 308.6M681.5 315.1L675.6 313.3M680.8 308.6L675.5 309.3M675.6 313.3L675.5 309.3M709.8 320.1L708.9 319.4M706.2 327.4L705.3 321.8M705.3 321.8L708.9 319.4M697.8 321.6L697.8 321.2M705.3 321.8L698.8 320.4M697.8 321.2L698.8 320.4M687.9 310.7L686.4 306.9M687.9 310.7L692.1 312.4M686.4 306.9L687.7 305.4M692.1 312.4L694.2 306.2M687.7 305.4L694.2 306.2M693.2 299.6L689.9 299.3M693.2 299.6L695.0 295.8M689.5 296.4L689.9 299.3M693.2 299.6L694.9 301.4M700.5 299.1L694.9 301.4M700.5 297.9L699.7 296.6M653.2 321.3L650.6 316.7M653.2 321.3L648.7 324.6M648.7 324.6L643.4 322.6M650.6 316.7L648.0 315.7M648.0 315.7L644.3 317.8M644.3 317.8L643.3 322.3M643.3 322.3L643.4 322.6M654.2 321.6L655.7 327.8M654.2 321.6L653.2 321.3M649.4 328.5L648.7 324.6M641.7 328.0L643.4 322.6M641.4 310.1L647.3 309.5M647.3 309.5L648.0 315.7M641.5 315.7L644.3 317.8M636.8 321.6L643.3 322.3M639.5 305.3L643.5 302.1M643.5 302.1L640.1 298.9M643.5 302.1L646.0 301.8M646.0 301.8L646.9 298.2M681.9 307.0L680.8 308.6M687.9 310.7L684.6 315.2M686.4 306.9L681.9 307.0M681.5 315.1L681.6 315.4M681.6 315.4L684.6 315.2M658.7 337.7L659.2 334.0M658.7 337.7L659.9 339.6M659.9 339.6L665.0 340.6M659.2 334.0L665.1 332.2M665.0 340.6L667.4 336.6M667.4 336.6L665.5 332.4M665.1 332.2L665.5 332.4M652.7 339.8L658.7 337.7M658.0 332.7L659.2 334.0M660.5 326.0L664.9 327.1M664.9 327.1L665.1 332.2M657.2 328.9L660.5 326.0M671.6 337.7L674.1 334.6M674.3 332.2L674.1 334.6M671.6 337.7L667.4 336.6M671.9 330.7L674.3 332.2M671.9 330.7L665.5 332.4M670.8 324.7L671.9 330.7M664.9 327.1L666.1 325.6M666.1 325.6L670.8 324.7M657.6 359.0L660.7 356.1M665.8 361.7L665.7 360.5M660.7 356.1L662.4 356.2M665.7 360.5L662.4 356.2M659.2 353.0L662.3 348.0M659.2 353.0L653.8 351.8M654.3 347.0L658.9 345.9M654.3 347.0L653.5 351.3M658.9 345.9L662.3 348.0M653.5 351.3L653.8 351.8M653.8 356.3L653.8 351.8M660.7 356.1L659.2 353.0M653.5 346.2L654.3 347.0M659.9 339.6L658.9 345.9M648.0 352.2L653.5 351.3M696.8 374.6L697.5 381.1M703.5 377.6L702.8 380.0M702.8 380.0L697.5 381.1M692.3 380.7L697.1 381.6M697.5 381.1L697.1 381.6M689.3 412.0L685.2 416.8M689.3 412.0L684.3 408.3M684.3 408.3L684.0 408.3M685.2 416.8L683.2 415.8M684.0 408.3L684.0 408.3M684.0 408.3L683.1 415.5M683.2 415.8L683.1 415.5M678.9 408.8L684.0 408.3M682.6 403.1L684.0 408.3M679.2 413.5L683.1 415.5M680.6 417.8L683.2 415.8M699.5 433.5L705.1 432.5M699.9 428.0L703.0 428.0M703.0 428.0L705.1 432.5M706.1 436.0L705.8 432.8M709.9 430.6L709.7 430.6M709.7 430.6L705.8 432.8M705.1 432.5L705.8 432.8M698.6 422.9L700.7 421.3M703.0 428.0L705.6 425.0M700.7 421.3L705.6 425.0M709.7 430.6L708.6 424.6M708.6 424.6L705.6 425.0M693.0 389.4L691.8 389.2M689.8 390.1L689.4 396.7M693.0 389.4L694.6 396.4M694.6 396.4L689.4 396.7M684.9 396.4L687.3 398.3M689.4 396.7L687.3 398.3M683.0 402.5L687.5 400.2M687.5 400.2L687.3 398.3M680.7 430.8L681.8 428.8M681.8 428.8L678.6 424.6M675.1 430.1L675.8 426.2M675.8 426.2L678.6 424.6M686.4 429.4L684.8 428.0M684.8 428.0L681.8 428.8M670.9 423.9L675.8 426.2M678.9 423.0L678.6 424.6M694.8 320.0L692.2 316.1M694.8 320.0L689.3 322.7M692.2 316.1L687.2 317.2M687.2 317.2L687.3 321.7M689.3 322.7L687.3 321.7M699.0 312.1L700.7 315.5M698.8 320.4L700.7 315.5M692.4 312.9L699.0 312.1M692.4 312.9L692.2 316.1M697.8 321.2L694.8 320.0M695.3 327.5L689.6 327.5M689.6 327.5L689.3 322.7M692.1 312.4L692.4 312.9M684.6 315.2L687.2 317.2M680.6 318.1L683.8 322.7M683.8 322.7L687.3 321.7M681.6 315.4L680.6 318.1M687.8 300.9L685.2 299.7M687.7 305.4L687.8 300.9M681.9 307.0L679.2 302.0M685.2 299.7L679.2 302.0M694.9 301.4L695.2 305.3M703.2 303.2L703.1 303.8M703.1 303.8L695.2 305.3M699.0 312.1L699.2 310.6M694.2 306.2L695.1 305.7M699.2 310.6L695.1 305.7M689.9 299.3L687.8 300.9M695.2 305.3L695.1 305.7M703.1 303.8L704.1 306.9M699.2 310.6L704.1 306.9M704.1 306.9L704.1 306.9M700.7 315.5L706.4 314.2M704.1 306.9L706.4 314.2M715.6 317.8L710.1 314.0M708.9 319.4L708.6 315.0M710.1 314.0L708.6 315.0M708.6 315.0L706.4 314.2M647.3 309.5L647.6 309.1M655.9 312.3L652.0 309.0M655.9 312.3L650.6 316.7M647.6 309.1L652.0 309.0M646.0 301.8L646.8 302.8M647.6 309.1L646.8 302.8M664.1 320.8L659.5 319.9M664.1 320.8L667.0 318.6M667.0 318.6L667.4 315.9M659.6 316.5L659.4 319.8M659.6 316.5L665.0 314.1M665.0 314.1L667.4 315.9M659.4 319.8L659.5 319.9M660.5 326.0L659.5 319.9M666.1 325.6L664.1 320.8M657.0 312.3L655.9 312.3M657.0 312.3L659.6 316.5M654.2 321.6L659.4 319.8M664.7 311.1L661.7 308.4M660.0 308.2L661.7 308.4M657.0 312.3L660.0 308.2M664.7 311.1L665.0 314.1M646.8 302.8L654.0 303.0M654.2 301.8L654.0 303.0M660.0 308.2L658.8 305.2M652.0 309.0L654.7 303.9M658.8 305.2L654.7 303.9M654.7 303.9L654.0 303.0M696.7 331.9L689.7 334.4M689.7 334.4L688.7 333.5M689.6 327.5L688.6 328.6M688.7 333.5L688.6 328.6M671.4 322.5L673.7 317.8M671.4 322.5L671.6 323.6M671.6 323.6L676.8 324.4M676.8 324.4L678.6 319.2M673.7 317.8L678.6 319.2M670.6 314.7L667.4 315.9M667.0 318.6L671.4 322.5M672.8 315.6L670.6 314.7M672.8 315.6L673.7 317.8M670.8 324.7L671.6 323.6M672.8 315.6L675.6 313.3M680.6 318.1L678.6 319.2M671.7 362.4L672.5 356.1M665.7 360.5L669.5 355.2M672.5 356.1L669.5 355.2M677.8 361.0L677.4 356.6M672.5 356.1L675.4 355.0M677.4 356.6L675.4 355.0M686.2 360.4L682.3 355.6M677.4 356.6L682.3 355.6M699.3 397.1L695.3 397.0M699.3 397.1L701.2 393.9M694.6 396.4L695.3 397.0M693.0 389.4L697.0 387.7M697.0 387.7L701.2 393.9M697.1 381.6L697.3 387.2M697.0 387.7L697.3 387.2M699.3 397.1L699.9 398.3M699.9 398.3L705.1 400.4M705.1 400.4L707.0 398.3M707.0 398.3L705.4 392.8M701.2 393.9L705.4 392.8M721.3 379.8L720.4 380.3M721.8 382.2L720.2 382.2M720.4 380.3L720.2 382.2M719.0 376.8L720.4 380.3M712.0 380.2L712.0 380.6M712.0 380.6L718.2 383.8M719.4 383.5L720.2 382.2M719.4 383.5L718.7 383.8M718.2 383.8L718.7 383.8M724.9 400.5L728.8 400.2M724.9 400.5L727.1 405.6M727.1 405.6L728.5 405.7M728.5 405.7L730.2 403.1M728.5 405.7L730.6 407.9M730.6 407.9L731.8 406.4M726.9 409.3L725.8 407.0M727.1 405.6L725.8 407.0M730.6 407.9L730.6 408.7M689.4 423.6L685.8 425.0M689.4 423.6L689.9 422.5M689.9 422.5L688.4 418.9M683.5 422.2L685.8 425.0M683.5 422.2L685.6 417.6M685.6 417.6L688.4 418.9M691.5 427.1L689.4 423.6M684.8 428.0L685.8 425.0M696.2 422.7L694.6 421.4M694.6 421.4L689.9 422.5M679.9 422.4L683.5 422.2M685.2 416.8L685.6 417.6M688.4 418.9L693.7 415.4M689.3 412.0L690.2 411.9M690.2 411.9L693.7 415.4M694.6 421.4L694.3 415.5M694.3 415.5L693.7 415.4M695.3 397.0L693.3 402.0M687.5 400.2L689.9 403.2M693.3 402.0L689.9 403.2M684.3 408.3L689.8 404.0M690.2 411.9L692.2 408.2M692.2 408.2L689.8 404.0M689.8 404.0L689.9 403.2M712.8 407.8L713.7 410.8M712.8 407.8L710.6 406.9M704.1 412.3L707.7 416.5M707.7 416.5L708.1 416.7M710.6 406.9L704.1 412.3M708.1 416.7L713.7 410.8M716.0 405.0L720.2 406.4M712.8 407.8L716.0 405.0M720.2 408.1L716.6 412.5M720.2 406.4L720.2 408.1M713.7 410.8L716.6 412.5M716.0 429.9L717.2 428.1M685.2 299.7L684.7 298.1M710.4 306.0L709.2 307.1M710.4 306.0L715.2 307.9M709.2 307.1L710.9 312.9M715.2 307.9L714.2 311.8M714.2 311.8L710.9 312.9M711.1 302.6L710.4 306.0M704.1 306.9L709.2 307.1M716.5 306.8L715.2 307.9M710.1 314.0L710.9 312.9M718.3 314.1L714.2 311.8M679.2 302.0L678.6 301.6M678.6 301.6L677.9 299.1M658.8 305.2L660.4 302.6M693.0 343.5L692.8 343.6M693.0 343.5L694.4 339.3M692.8 343.6L687.4 340.8M694.4 339.3L689.9 335.4M689.9 335.4L687.4 340.8M693.5 352.1L690.0 347.3M695.3 344.9L693.0 343.5M690.0 347.3L692.8 343.6M695.8 338.7L694.4 339.3M689.7 334.4L689.9 335.4M685.3 341.5L687.4 340.8M681.6 337.5L685.3 341.5M682.6 334.4L688.7 333.5M681.6 337.5L682.6 334.4M678.1 325.9L678.0 330.2M678.1 325.9L683.2 324.3M683.2 324.3L684.9 327.6M684.9 327.6L680.9 331.6M678.0 330.2L680.9 331.6M676.8 324.4L678.1 325.9M674.3 332.2L678.0 330.2M683.8 322.7L683.2 324.3M688.6 328.6L684.9 327.6M682.6 334.4L680.9 331.6M674.1 334.6L679.0 338.6M681.6 337.5L679.0 338.6M662.4 356.2L666.7 351.3M669.5 355.2L666.9 351.4M666.7 351.3L666.9 351.4M662.3 348.0L663.1 348.0M666.7 351.3L663.1 348.0M665.0 340.6L666.3 343.0M663.1 348.0L666.3 343.0M685.3 341.5L684.3 344.3M690.0 347.3L688.1 347.7M688.1 347.7L684.3 344.3M690.2 354.9L686.3 351.5M688.1 347.7L686.3 351.5M682.3 355.6L683.4 352.1M686.3 351.5L683.4 352.1M702.8 380.0L705.3 383.1M697.3 387.2L704.2 386.3M705.3 383.1L704.2 386.3M712.0 380.6L710.7 382.2M705.3 383.1L710.7 382.2M705.4 392.8L706.8 391.3M704.2 386.3L706.8 391.3M709.2 405.0L711.2 399.7M710.6 406.9L709.2 405.0M716.0 405.0L716.0 404.1M716.0 404.1L711.2 399.7M705.1 400.4L705.5 403.9M709.2 405.0L705.5 403.9M707.0 398.3L711.2 399.1M711.2 399.1L711.2 399.7M725.8 407.0L724.1 407.1M724.1 407.1L723.6 409.8M720.2 408.1L721.8 410.1M721.7 405.6L720.2 406.4M721.7 405.6L724.1 407.1M717.4 413.6L716.6 412.5M717.4 413.6L718.0 413.3M704.1 412.3L703.2 411.9M707.7 416.5L700.9 420.8M700.9 420.8L698.7 415.9M703.2 411.9L698.7 415.9M700.7 421.3L700.9 420.8M694.3 415.5L694.6 415.4M698.7 415.9L694.6 415.4M708.6 424.6L708.9 424.2M708.1 416.7L709.3 418.5M708.9 424.2L709.3 418.5M715.0 429.5L713.9 424.8M708.9 424.2L713.9 424.8M717.6 424.4L716.0 423.6M713.9 424.8L716.0 423.6M675.5 309.3L675.3 309.2M678.6 301.6L674.4 304.0M674.4 304.0L675.3 309.2M670.6 314.7L670.4 309.8M675.3 309.2L670.4 309.8M664.7 311.1L669.4 308.9M670.4 309.8L669.4 308.9M665.5 302.0L667.7 303.9M670.7 300.4L670.2 303.2M670.2 303.2L668.8 304.1M667.7 303.9L668.8 304.1M661.7 308.4L667.7 303.9M674.4 304.0L670.2 303.2M669.4 308.9L668.8 304.1M671.6 337.7L672.4 341.7M679.0 338.6L676.6 342.8M672.4 341.7L676.6 342.8M666.3 343.0L670.0 343.6M672.4 341.7L670.0 343.6M666.9 351.4L670.7 348.6M670.0 343.6L670.7 348.6M675.4 355.0L675.6 353.4M675.6 353.4L673.1 349.2M673.1 349.2L670.7 348.6M683.3 344.9L681.6 350.1M683.3 344.9L677.1 343.7M677.1 343.7L676.7 346.0M676.7 346.0L679.5 349.9M679.5 349.9L681.6 350.1M683.4 352.1L681.6 350.1M684.3 344.3L683.3 344.9M676.6 342.8L677.1 343.7M673.1 349.2L676.7 346.0M675.6 353.4L679.5 349.9M716.0 404.1L718.0 399.9M712.8 397.2L717.5 398.7M711.2 399.1L712.8 397.2M718.0 399.9L717.5 398.7M721.7 405.6L723.2 401.3M718.0 399.9L723.2 401.3M724.9 400.5L724.8 400.5M724.8 400.5L723.2 401.3M719.4 383.5L722.5 385.9M718.7 388.2L720.3 389.0M718.7 383.8L718.7 388.2M723.3 388.1L720.3 389.0M712.5 394.5L715.7 392.7M712.5 394.5L708.8 391.1M715.7 392.7L714.9 389.1M708.8 391.1L711.5 387.8M711.5 387.8L713.5 388.1M713.5 388.1L714.9 389.1M718.0 397.6L717.5 398.7M717.0 392.8L715.7 392.7M717.0 392.8L718.0 397.6M712.8 397.2L712.5 394.5M706.8 391.3L708.8 391.1M717.9 392.4L717.0 392.8M717.9 392.4L718.2 388.6M718.2 388.6L714.9 389.1M710.7 382.2L711.5 387.8M718.2 383.8L713.5 388.1M718.7 388.2L718.2 388.6M702.6 405.8L701.5 409.1M702.6 405.8L699.4 402.3M701.5 409.1L697.1 408.8M699.4 402.3L696.2 403.8M696.2 403.8L696.5 408.3M696.5 408.3L697.1 408.8M705.5 403.9L702.6 405.8M703.2 411.9L701.5 409.1M699.9 398.3L699.4 402.3M694.6 415.4L697.1 408.8M693.3 402.0L696.2 403.8M692.2 408.2L696.5 408.3M716.0 422.4L712.8 418.7M716.0 422.4L717.1 421.0M712.8 418.7L716.1 417.0M709.3 418.5L712.8 418.7M716.0 423.6L716.0 422.4M717.4 413.6L717.5 414.0M726.1 394.9L724.3 397.2M724.5 391.1L721.3 392.8M724.3 397.2L721.5 395.0M721.5 395.0L721.2 393.0M721.2 393.0L721.3 392.8M724.8 400.5L724.3 397.2M720.3 389.0L721.3 392.8M718.0 397.6L721.5 395.0M717.9 392.4L721.2 393.0" fill="none" stroke="#586258" stroke-width="0.6" stroke-opacity="0.9"></path>
<rect x="557.3" y="366.4" width="13.6" height="13.8" fill="#dadada"></rect>
<path d="M560.6 369.3L567.6 377.4M567.6 369.3L560.6 377.4" stroke="#9a9a9a" stroke-width="0.7" fill="none"></path>
<rect x="534.6" y="449.6" width="85.5" height="8" fill="#ffffff" fill-opacity="0.55"></rect>
<text x="536.3" y="455.2" class="attr" textLength="81.8" lengthAdjust="spacingAndGlyphs">© 2024 Mapbox &nbsp;© OpenStreetMap</text>
</g>
<rect x="793.2" y="297.4" width="72.4" height="7.2" fill="#fff" stroke="#bdbdbd" stroke-width="0.6"></rect>
<path d="M860.2 300.2H863L861.6 302.1z" fill="#333"></path>
<rect x="793.2" y="340.8" width="72.4" height="6.4" fill="#fff" stroke="#bdbdbd" stroke-width="0.6"></rect>
<line x1="799.8" x2="847" y1="352.5" y2="352.5" stroke="#cfcfcf" stroke-width="0.8"></line>
<circle cx="797.8" cy="352.5" r="1.7" fill="#fff" stroke="#777" stroke-width="0.6"></circle>
<rect x="851.2" y="349.8" width="6.2" height="5.4" fill="#fff" stroke="#c4c4c4" stroke-width="0.5"></rect>
<rect x="858.6" y="349.8" width="6.2" height="5.4" fill="#fff" stroke="#c4c4c4" stroke-width="0.5"></rect>
<path d="M855.3 350.8L853.4 352.5L855.3 354.2M860.8 350.8L862.7 352.5L860.8 354.2" fill="none" stroke="#666" stroke-width="0.6"></path>
<rect x="794.2" y="419.2" width="6.3" height="6.3" fill="#bfb1ad"></rect>
<rect x="794.2" y="428.7" width="6.3" height="6.3" fill="#4b9c48"></rect>
<rect x="794.2" y="437.7" width="6.3" height="6.3" fill="#e8505b"></rect>
</svg>
<span class="abs bcb" style="left: 35.6px; top: 16.3px; font-size: 6.1px; letter-spacing: -0.392px;">Explorer</span>
<span class="abs bcs" style="left: 61.2px; top: 16.3px; font-size: 6.1px; letter-spacing: 0.297px;">/</span>
<span class="abs bcb" style="left: 66.9px; top: 16.3px; font-size: 6.1px; letter-spacing: -0.331px;">Tableaux de bord RDC COVID-19</span>
<span class="abs bcs" style="left: 155.7px; top: 16.3px; font-size: 6.1px; letter-spacing: 0.297px;">/</span>
<span class="abs bcb" style="left: 160.9px; top: 16.3px; font-size: 6.1px; letter-spacing: -0.221px;">Integrated Malaria Dashboard</span>
<span class="abs bcs" style="left: 244.7px; top: 16.3px; font-size: 6.1px; letter-spacing: 0.297px;">/</span>
<span class="abs bcr" style="left: 252.1px; top: 16.3px; font-size: 6.1px; letter-spacing: -0.332px;">Epi Dashboard</span>
<span class="abs bcg" style="left: 696.7px; top: 17.3px; font-size: 5.8px; letter-spacing: -0.095px;">Dispositions pour les appareils</span>
<span class="abs bcg" style="left: 795.5px; top: 17.3px; font-size: 5.8px; letter-spacing: -0.149px;">Sources de données</span>
<span class="abs" style="left:938px;top:16.2px;width:14.6px;text-align:center;color:#fff;font-weight:bold;font-size:6.6px;line-height:8px;letter-spacing:-0.3px">ND</span>
<span class="abs tbt" style="left: 191.5px; top: 34.3px; font-size: 6.1px; letter-spacing: -0.328px;">Détails des données</span>
<span class="abs tbt" style="left: 263px; top: 34.3px; font-size: 6.1px; letter-spacing: -0.288px;">Modifier</span>
<span class="abs tbt" style="left: 302.6px; top: 34.3px; font-size: 6.1px; letter-spacing: -0.236px;">Vue : Original</span>
<span class="abs tbt" style="left: 730.5px; top: 34.3px; font-size: 6.1px; letter-spacing: -0.366px;">Guide des données</span>
<span class="abs tbt" style="left: 798.9px; top: 34.3px; font-size: 6.1px; letter-spacing: -0.228px;">Surveiller</span>
<span class="abs tbt" style="left: 924.8px; top: 34.3px; font-size: 6.1px; color: rgb(36, 85, 122); letter-spacing: -0.204px;">Partager</span>
<span class="abs tab" style="left: 13.7px; top: 48.3px; font-size: 6px; letter-spacing: -0.024px;">Tableau de bord PNLP</span>
<span class="abs tab" style="left: 82px; top: 48.3px; font-size: 6px; letter-spacing: 0.028px;">Tableau de bord Logistique</span>
<span class="abs tab" style="left: 164.2px; top: 48.3px; font-size: 6px; letter-spacing: 0.044px;">Tableau de bord Logistique Par...</span>
<span class="abs tab" style="left: 262.8px; top: 48.3px; font-size: 6px; letter-spacing: 0.1px;">Comparaison Indicateurs</span>
<span class="abs tab" style="left: 340.5px; top: 48.3px; font-size: 6px; letter-spacing: 0.076px;">Exhaustivité des indicateurs</span>
<span class="abs tab act" style="left: 425.3px; top: 48.3px; font-size: 6px; letter-spacing: -0.023px;">Epi Dashboard</span>
<span class="abs tab" style="left: 473.3px; top: 48.3px; font-size: 6px; letter-spacing: 0.074px;">Epi_dashboard_details</span>
<span class="abs tab" style="left: 544.1px; top: 48.3px; font-size: 6px; letter-spacing: 0.162px;">bulletin epidemio</span>
<span class="abs tab" style="left: 599.9px; top: 48.3px; font-size: 6px; letter-spacing: 0.121px;">Données climatiques</span>
<span class="abs flab" style="left: 10.9px; top: 62.3px; font-size: 6.2px; letter-spacing: -0.36px;">Province</span>
<span class="abs flab" style="left: 193.1px; top: 62.3px; font-size: 6.2px; letter-spacing: -0.476px;">Zone de Santé</span>
<span class="abs flab" style="left: 385.1px; top: 62.3px; font-size: 6.2px; letter-spacing: -0.492px;">Numsem</span>
<span class="abs ftxt" style="left: 13px; top: 73.3px; font-size: 5.2px; letter-spacing: 0.122px;">(Tout)</span>
<span class="abs ftxt" style="left: 195.2px; top: 73.3px; font-size: 5.2px; letter-spacing: 0.122px;">(Tout)</span>
<span class="abs ftxt" style="left:387.0px;top:73.30px;font-size:4.6px;color:#555">1</span>
<span class="abs ftxt" style="left:858.6px;top:73.30px;font-size:4.7px;color:#444">26</span>
<span class="abs th" style="left:71.40px;top:89.30px;font-size:6.1px;width:30.64px">1</span>
<span class="abs th" style="left:102.04px;top:89.30px;font-size:6.1px;width:30.64px">2</span>
<span class="abs th" style="left:132.68px;top:89.30px;font-size:6.1px;width:30.64px">3</span>
<span class="abs th" style="left:163.32px;top:89.30px;font-size:6.1px;width:30.64px">4</span>
<span class="abs th" style="left:193.95px;top:89.30px;font-size:6.1px;width:30.64px">5</span>
<span class="abs th" style="left:224.59px;top:89.30px;font-size:6.1px;width:30.64px">6</span>
<span class="abs th" style="left:255.23px;top:89.30px;font-size:6.1px;width:30.64px">7</span>
<span class="abs th" style="left:285.87px;top:89.30px;font-size:6.1px;width:30.64px">8</span>
<span class="abs th" style="left:316.51px;top:89.30px;font-size:6.1px;width:30.64px">9</span>
<span class="abs th" style="left:347.15px;top:89.30px;font-size:6.1px;width:30.64px">10</span>
<span class="abs th" style="left:377.78px;top:89.30px;font-size:6.1px;width:30.64px">11</span>
<span class="abs th" style="left:408.42px;top:89.30px;font-size:6.1px;width:30.64px">12</span>
<span class="abs th" style="left:439.06px;top:89.30px;font-size:6.1px;width:30.64px">13</span>
<span class="abs th" style="left:469.70px;top:89.30px;font-size:6.1px;width:30.64px">14</span>
<span class="abs th" style="left:500.34px;top:89.30px;font-size:6.1px;width:30.64px">15</span>
<span class="abs th" style="left:530.98px;top:89.30px;font-size:6.1px;width:30.64px">16</span>
<span class="abs th" style="left:561.62px;top:89.30px;font-size:6.1px;width:30.64px">17</span>
<span class="abs th" style="left:592.25px;top:89.30px;font-size:6.1px;width:30.64px">18</span>
<span class="abs th" style="left:622.89px;top:89.30px;font-size:6.1px;width:30.64px">19</span>
<span class="abs th" style="left:653.53px;top:89.30px;font-size:6.1px;width:30.64px">20</span>
<span class="abs th" style="left:684.17px;top:89.30px;font-size:6.1px;width:30.64px">21</span>
<span class="abs th" style="left:714.81px;top:89.30px;font-size:6.1px;width:30.64px">22</span>
<span class="abs th" style="left:745.45px;top:89.30px;font-size:6.1px;width:30.64px">23</span>
<span class="abs th" style="left:776.08px;top:89.30px;font-size:6.1px;width:30.64px">24</span>
<span class="abs th" style="left:806.72px;top:89.30px;font-size:6.1px;width:30.64px">25</span>
<span class="abs th" style="left:837.36px;top:89.30px;font-size:6.1px;width:30.64px">26</span>
<span class="abs ly" style="left: 11.3px; top: 101.3px; font-size: 6.3px; letter-spacing: -0.331px;">2019</span>
<span class="abs td" style="left:71.40px;top:101.30px;font-size:5.3px;width:30.64px">334 268</span>
<span class="abs td" style="left:102.04px;top:101.30px;font-size:5.3px;width:30.64px">348 293</span>
<span class="abs td" style="left:132.68px;top:101.30px;font-size:5.3px;width:30.64px">357 791</span>
<span class="abs td" style="left:163.32px;top:101.30px;font-size:5.3px;width:30.64px">365 748</span>
<span class="abs td" style="left:193.95px;top:101.30px;font-size:5.3px;width:30.64px">355 125</span>
<span class="abs td" style="left:224.59px;top:101.30px;font-size:5.3px;width:30.64px">375 307</span>
<span class="abs td" style="left:255.23px;top:101.30px;font-size:5.3px;width:30.64px">363 212</span>
<span class="abs td" style="left:285.87px;top:101.30px;font-size:5.3px;width:30.64px">361 415</span>
<span class="abs td" style="left:316.51px;top:101.30px;font-size:5.3px;width:30.64px">359 741</span>
<span class="abs td" style="left:347.15px;top:101.30px;font-size:5.3px;width:30.64px">361 087</span>
<span class="abs td" style="left:377.78px;top:101.30px;font-size:5.3px;width:30.64px">363 115</span>
<span class="abs td" style="left:408.42px;top:101.30px;font-size:5.3px;width:30.64px">362 610</span>
<span class="abs td" style="left:439.06px;top:101.30px;font-size:5.3px;width:30.64px">365 614</span>
<span class="abs td" style="left:469.70px;top:101.30px;font-size:5.3px;width:30.64px">357 012</span>
<span class="abs td" style="left:500.34px;top:101.30px;font-size:5.3px;width:30.64px">372 062</span>
<span class="abs td" style="left:530.98px;top:101.30px;font-size:5.3px;width:30.64px">353 054</span>
<span class="abs td" style="left:561.62px;top:101.30px;font-size:5.3px;width:30.64px">353 791</span>
<span class="abs td" style="left:592.25px;top:101.30px;font-size:5.3px;width:30.64px">349 706</span>
<span class="abs td" style="left:622.89px;top:101.30px;font-size:5.3px;width:30.64px">358 832</span>
<span class="abs td" style="left:653.53px;top:101.30px;font-size:5.3px;width:30.64px">374 096</span>
<span class="abs td" style="left:684.17px;top:101.30px;font-size:5.3px;width:30.64px">371 701</span>
<span class="abs td" style="left:714.81px;top:101.30px;font-size:5.3px;width:30.64px">369 756</span>
<span class="abs td" style="left:745.45px;top:101.30px;font-size:5.3px;width:30.64px">363 973</span>
<span class="abs td" style="left:776.08px;top:101.30px;font-size:5.3px;width:30.64px">363 763</span>
<span class="abs td" style="left:806.72px;top:101.30px;font-size:5.3px;width:30.64px">354 690</span>
<span class="abs td" style="left:837.36px;top:101.30px;font-size:5.3px;width:30.64px">337 638</span>
<span class="abs ly" style="left: 11.3px; top: 115.3px; font-size: 6.3px; letter-spacing: -0.331px;">2020</span>
<span class="abs td" style="left:71.40px;top:115.30px;font-size:5.3px;width:30.64px">370 133</span>
<span class="abs td" style="left:102.04px;top:115.30px;font-size:5.3px;width:30.64px">375 466</span>
<span class="abs td" style="left:132.68px;top:115.30px;font-size:5.3px;width:30.64px">389 754</span>
<span class="abs td" style="left:163.32px;top:115.30px;font-size:5.3px;width:30.64px">393 084</span>
<span class="abs td" style="left:193.95px;top:115.30px;font-size:5.3px;width:30.64px">362 368</span>
<span class="abs td" style="left:224.59px;top:115.30px;font-size:5.3px;width:30.64px">376 045</span>
<span class="abs td" style="left:255.23px;top:115.30px;font-size:5.3px;width:30.64px">365 088</span>
<span class="abs td" style="left:285.87px;top:115.30px;font-size:5.3px;width:30.64px">369 128</span>
<span class="abs td" style="left:316.51px;top:115.30px;font-size:5.3px;width:30.64px">363 289</span>
<span class="abs td" style="left:347.15px;top:115.30px;font-size:5.3px;width:30.64px">355 823</span>
<span class="abs td" style="left:377.78px;top:115.30px;font-size:5.3px;width:30.64px">359 150</span>
<span class="abs td" style="left:408.42px;top:115.30px;font-size:5.3px;width:30.64px">355 653</span>
<span class="abs td" style="left:439.06px;top:115.30px;font-size:5.3px;width:30.64px">356 398</span>
<span class="abs td" style="left:469.70px;top:115.30px;font-size:5.3px;width:30.64px">338 266</span>
<span class="abs td" style="left:500.34px;top:115.30px;font-size:5.3px;width:30.64px">356 087</span>
<span class="abs td" style="left:530.98px;top:115.30px;font-size:5.3px;width:30.64px">350 878</span>
<span class="abs td" style="left:561.62px;top:115.30px;font-size:5.3px;width:30.64px">362 642</span>
<span class="abs td" style="left:592.25px;top:115.30px;font-size:5.3px;width:30.64px">381 002</span>
<span class="abs td" style="left:622.89px;top:115.30px;font-size:5.3px;width:30.64px">368 125</span>
<span class="abs td" style="left:653.53px;top:115.30px;font-size:5.3px;width:30.64px">383 486</span>
<span class="abs td" style="left:684.17px;top:115.30px;font-size:5.3px;width:30.64px">380 124</span>
<span class="abs td" style="left:714.81px;top:115.30px;font-size:5.3px;width:30.64px">388 638</span>
<span class="abs td" style="left:745.45px;top:115.30px;font-size:5.3px;width:30.64px">382 994</span>
<span class="abs td" style="left:776.08px;top:115.30px;font-size:5.3px;width:30.64px">398 795</span>
<span class="abs td" style="left:806.72px;top:115.30px;font-size:5.3px;width:30.64px">392 255</span>
<span class="abs td" style="left:837.36px;top:115.30px;font-size:5.3px;width:30.64px">381 178</span>
<span class="abs ly" style="left: 11.3px; top: 128.3px; font-size: 6.3px; letter-spacing: -0.331px;">2021</span>
<span class="abs td" style="left:71.40px;top:129.30px;font-size:5.3px;width:30.64px">286 417</span>
<span class="abs td" style="left:102.04px;top:129.30px;font-size:5.3px;width:30.64px">287 098</span>
<span class="abs td" style="left:132.68px;top:129.30px;font-size:5.3px;width:30.64px">311 972</span>
<span class="abs td" style="left:163.32px;top:129.30px;font-size:5.3px;width:30.64px">320 724</span>
<span class="abs td" style="left:193.95px;top:129.30px;font-size:5.3px;width:30.64px">336 687</span>
<span class="abs td" style="left:224.59px;top:129.30px;font-size:5.3px;width:30.64px">334 423</span>
<span class="abs td" style="left:255.23px;top:129.30px;font-size:5.3px;width:30.64px">335 672</span>
<span class="abs td" style="left:285.87px;top:129.30px;font-size:5.3px;width:30.64px">341 511</span>
<span class="abs td" style="left:316.51px;top:129.30px;font-size:5.3px;width:30.64px">339 195</span>
<span class="abs td" style="left:347.15px;top:129.30px;font-size:5.3px;width:30.64px">352 150</span>
<span class="abs td" style="left:377.78px;top:129.30px;font-size:5.3px;width:30.64px">337 256</span>
<span class="abs td" style="left:408.42px;top:129.30px;font-size:5.3px;width:30.64px">344 143</span>
<span class="abs td" style="left:439.06px;top:129.30px;font-size:5.3px;width:30.64px">333 984</span>
<span class="abs td" style="left:469.70px;top:129.30px;font-size:5.3px;width:30.64px">341 723</span>
<span class="abs td" style="left:500.34px;top:129.30px;font-size:5.3px;width:30.64px">343 343</span>
<span class="abs td" style="left:530.98px;top:129.30px;font-size:5.3px;width:30.64px">358 490</span>
<span class="abs td" style="left:561.62px;top:129.30px;font-size:5.3px;width:30.64px">365 831</span>
<span class="abs td" style="left:592.25px;top:129.30px;font-size:5.3px;width:30.64px">341 262</span>
<span class="abs td" style="left:622.89px;top:129.30px;font-size:5.3px;width:30.64px">363 836</span>
<span class="abs td" style="left:653.53px;top:129.30px;font-size:5.3px;width:30.64px">369 601</span>
<span class="abs td" style="left:684.17px;top:129.30px;font-size:5.3px;width:30.64px">388 402</span>
<span class="abs td" style="left:714.81px;top:129.30px;font-size:5.3px;width:30.64px">351 826</span>
<span class="abs td" style="left:745.45px;top:129.30px;font-size:5.3px;width:30.64px">282 599</span>
<span class="abs td" style="left:776.08px;top:129.30px;font-size:5.3px;width:30.64px">258 812</span>
<span class="abs td" style="left:806.72px;top:129.30px;font-size:5.3px;width:30.64px">308 352</span>
<span class="abs td" style="left:837.36px;top:129.30px;font-size:5.3px;width:30.64px">346 207</span>
<span class="abs ly" style="left: 11.3px; top: 142.3px; font-size: 6.3px; letter-spacing: -0.331px;">2022</span>
<span class="abs td" style="left:71.40px;top:142.30px;font-size:5.3px;width:30.64px">266 028</span>
<span class="abs td" style="left:102.04px;top:142.30px;font-size:5.3px;width:30.64px">249 979</span>
<span class="abs td" style="left:132.68px;top:142.30px;font-size:5.3px;width:30.64px">290 768</span>
<span class="abs td" style="left:163.32px;top:142.30px;font-size:5.3px;width:30.64px">297 903</span>
<span class="abs td" style="left:193.95px;top:142.30px;font-size:5.3px;width:30.64px">320 660</span>
<span class="abs td" style="left:224.59px;top:142.30px;font-size:5.3px;width:30.64px">350 306</span>
<span class="abs td" style="left:255.23px;top:142.30px;font-size:5.3px;width:30.64px">350 600</span>
<span class="abs td" style="left:285.87px;top:142.30px;font-size:5.3px;width:30.64px">362 926</span>
<span class="abs td" style="left:316.51px;top:142.30px;font-size:5.3px;width:30.64px">368 669</span>
<span class="abs td" style="left:347.15px;top:142.30px;font-size:5.3px;width:30.64px">375 652</span>
<span class="abs td" style="left:377.78px;top:142.30px;font-size:5.3px;width:30.64px">370 907</span>
<span class="abs td" style="left:408.42px;top:142.30px;font-size:5.3px;width:30.64px">371 261</span>
<span class="abs td" style="left:439.06px;top:142.30px;font-size:5.3px;width:30.64px">366 730</span>
<span class="abs td" style="left:469.70px;top:142.30px;font-size:5.3px;width:30.64px">386 738</span>
<span class="abs td" style="left:500.34px;top:142.30px;font-size:5.3px;width:30.64px">393 461</span>
<span class="abs td" style="left:530.98px;top:142.30px;font-size:5.3px;width:30.64px">391 721</span>
<span class="abs td" style="left:561.62px;top:142.30px;font-size:5.3px;width:30.64px">518 506</span>
<span class="abs td" style="left:592.25px;top:142.30px;font-size:5.3px;width:30.64px">415 986</span>
<span class="abs td" style="left:622.89px;top:142.30px;font-size:5.3px;width:30.64px">399 328</span>
<span class="abs td" style="left:653.53px;top:142.30px;font-size:5.3px;width:30.64px">424 864</span>
<span class="abs td" style="left:684.17px;top:142.30px;font-size:5.3px;width:30.64px">445 146</span>
<span class="abs td" style="left:714.81px;top:142.30px;font-size:5.3px;width:30.64px">419 616</span>
<span class="abs td" style="left:745.45px;top:142.30px;font-size:5.3px;width:30.64px">435 312</span>
<span class="abs td" style="left:776.08px;top:142.30px;font-size:5.3px;width:30.64px">436 880</span>
<span class="abs td" style="left:806.72px;top:142.30px;font-size:5.3px;width:30.64px">422 386</span>
<span class="abs td" style="left:837.36px;top:142.30px;font-size:5.3px;width:30.64px">411 445</span>
<span class="abs ly" style="left: 11.3px; top: 156.3px; font-size: 6.3px; letter-spacing: -0.331px;">2023</span>
<span class="abs td" style="left:71.40px;top:156.30px;font-size:5.3px;width:30.64px">520 901</span>
<span class="abs td" style="left:102.04px;top:156.30px;font-size:5.3px;width:30.64px">475 738</span>
<span class="abs td" style="left:132.68px;top:156.30px;font-size:5.3px;width:30.64px">529 811</span>
<span class="abs td" style="left:163.32px;top:156.30px;font-size:5.3px;width:30.64px">500 881</span>
<span class="abs td" style="left:193.95px;top:156.30px;font-size:5.3px;width:30.64px">489 566</span>
<span class="abs td" style="left:224.59px;top:156.30px;font-size:5.3px;width:30.64px">494 977</span>
<span class="abs td" style="left:255.23px;top:156.30px;font-size:5.3px;width:30.64px">498 643</span>
<span class="abs td" style="left:285.87px;top:156.30px;font-size:5.3px;width:30.64px">484 657</span>
<span class="abs td" style="left:316.51px;top:156.30px;font-size:5.3px;width:30.64px">471 412</span>
<span class="abs td" style="left:347.15px;top:156.30px;font-size:5.3px;width:30.64px">458 191</span>
<span class="abs td" style="left:377.78px;top:156.30px;font-size:5.3px;width:30.64px">460 137</span>
<span class="abs td" style="left:408.42px;top:156.30px;font-size:5.3px;width:30.64px">485 983</span>
<span class="abs td" style="left:439.06px;top:156.30px;font-size:5.3px;width:30.64px">469 608</span>
<span class="abs td" style="left:469.70px;top:156.30px;font-size:5.3px;width:30.64px">479 361</span>
<span class="abs td" style="left:500.34px;top:156.30px;font-size:5.3px;width:30.64px">470 402</span>
<span class="abs td" style="left:530.98px;top:156.30px;font-size:5.3px;width:30.64px">477 008</span>
<span class="abs td" style="left:561.62px;top:156.30px;font-size:5.3px;width:30.64px">470 216</span>
<span class="abs td" style="left:592.25px;top:156.30px;font-size:5.3px;width:30.64px">480 632</span>
<span class="abs td" style="left:622.89px;top:156.30px;font-size:5.3px;width:30.64px">516 800</span>
<span class="abs td" style="left:653.53px;top:156.30px;font-size:5.3px;width:30.64px">496 927</span>
<span class="abs td" style="left:684.17px;top:156.30px;font-size:5.3px;width:30.64px">492 048</span>
<span class="abs td" style="left:714.81px;top:156.30px;font-size:5.3px;width:30.64px">475 907</span>
<span class="abs td" style="left:745.45px;top:156.30px;font-size:5.3px;width:30.64px">492 292</span>
<span class="abs td" style="left:776.08px;top:156.30px;font-size:5.3px;width:30.64px">505 190</span>
<span class="abs td" style="left:806.72px;top:156.30px;font-size:5.3px;width:30.64px">491 840</span>
<span class="abs td" style="left:837.36px;top:156.30px;font-size:5.3px;width:30.64px">482 948</span>
<span class="abs lb" style="left: 11.3px; top: 169.3px; font-size: 6px; letter-spacing: -0.373px;">Cas 2024</span>
<span class="abs td dk" style="left:71.40px;top:168.30px;font-size:5.3px;width:30.64px">476 602</span>
<span class="abs td dk" style="left:102.04px;top:168.30px;font-size:5.3px;width:30.64px">491 488</span>
<span class="abs td dk" style="left:132.68px;top:168.30px;font-size:5.3px;width:30.64px">478 624</span>
<span class="abs td dk" style="left:163.32px;top:168.30px;font-size:5.3px;width:30.64px">496 285</span>
<span class="abs td dk" style="left:193.95px;top:168.30px;font-size:5.3px;width:30.64px">482 743</span>
<span class="abs td dk" style="left:224.59px;top:168.30px;font-size:5.3px;width:30.64px">499 091</span>
<span class="abs td dk" style="left:255.23px;top:168.30px;font-size:5.3px;width:30.64px">484 850</span>
<span class="abs td dk" style="left:285.87px;top:168.30px;font-size:5.3px;width:30.64px">491 654</span>
<span class="abs td dk" style="left:316.51px;top:168.30px;font-size:5.3px;width:30.64px">489 106</span>
<span class="abs td dk" style="left:347.15px;top:168.30px;font-size:5.3px;width:30.64px">477 716</span>
<span class="abs td dk" style="left:377.78px;top:168.30px;font-size:5.3px;width:30.64px">500 548</span>
<span class="abs td dk" style="left:408.42px;top:168.30px;font-size:5.3px;width:30.64px">507 353</span>
<span class="abs td dk" style="left:439.06px;top:168.30px;font-size:5.3px;width:30.64px">489 775</span>
<span class="abs td dk" style="left:469.70px;top:168.30px;font-size:5.3px;width:30.64px">486 304</span>
<span class="abs td dk" style="left:500.34px;top:168.30px;font-size:5.3px;width:30.64px">501 075</span>
<span class="abs td dk" style="left:530.98px;top:168.30px;font-size:5.3px;width:30.64px">491 003</span>
<span class="abs td dk" style="left:561.62px;top:168.30px;font-size:5.3px;width:30.64px">506 301</span>
<span class="abs td dk" style="left:592.25px;top:168.30px;font-size:5.3px;width:30.64px">510 382</span>
<span class="abs td dk" style="left:622.89px;top:168.30px;font-size:5.3px;width:30.64px">520 427</span>
<span class="abs td dk" style="left:653.53px;top:168.30px;font-size:5.3px;width:30.64px">518 615</span>
<span class="abs td dk" style="left:684.17px;top:168.30px;font-size:5.3px;width:30.64px">515 422</span>
<span class="abs td dk" style="left:714.81px;top:168.30px;font-size:5.3px;width:30.64px">507 751</span>
<span class="abs td dk" style="left:745.45px;top:168.30px;font-size:5.3px;width:30.64px">504 507</span>
<span class="abs td dk" style="left:776.08px;top:168.30px;font-size:5.3px;width:30.64px">491 112</span>
<span class="abs td dk" style="left:806.72px;top:168.30px;font-size:5.3px;width:30.64px">431 169</span>
<span class="abs td dk" style="left:837.36px;top:168.30px;font-size:5.3px;width:30.64px">425 828</span>
<span class="abs lb" style="left: 11.3px; top: 177.3px; font-size: 6px; letter-spacing: -0.303px;">Décès 2024</span>
<span class="abs td dk" style="left:71.40px;top:176.30px;font-size:5.3px;width:30.64px">97</span>
<span class="abs td dk" style="left:102.04px;top:176.30px;font-size:5.3px;width:30.64px">107</span>
<span class="abs td dk" style="left:132.68px;top:176.30px;font-size:5.3px;width:30.64px">84</span>
<span class="abs td dk" style="left:163.32px;top:176.30px;font-size:5.3px;width:30.64px">74</span>
<span class="abs td dk" style="left:193.95px;top:176.30px;font-size:5.3px;width:30.64px">98</span>
<span class="abs td dk" style="left:224.59px;top:176.30px;font-size:5.3px;width:30.64px">93</span>
<span class="abs td dk" style="left:255.23px;top:176.30px;font-size:5.3px;width:30.64px">87</span>
<span class="abs td dk" style="left:285.87px;top:176.30px;font-size:5.3px;width:30.64px">80</span>
<span class="abs td dk" style="left:316.51px;top:176.30px;font-size:5.3px;width:30.64px">99</span>
<span class="abs td dk" style="left:347.15px;top:176.30px;font-size:5.3px;width:30.64px">94</span>
<span class="abs td dk" style="left:377.78px;top:176.30px;font-size:5.3px;width:30.64px">113</span>
<span class="abs td dk" style="left:408.42px;top:176.30px;font-size:5.3px;width:30.64px">114</span>
<span class="abs td dk" style="left:439.06px;top:176.30px;font-size:5.3px;width:30.64px">81</span>
<span class="abs td dk" style="left:469.70px;top:176.30px;font-size:5.3px;width:30.64px">102</span>
<span class="abs td dk" style="left:500.34px;top:176.30px;font-size:5.3px;width:30.64px">79</span>
<span class="abs td dk" style="left:530.98px;top:176.30px;font-size:5.3px;width:30.64px">97</span>
<span class="abs td dk" style="left:561.62px;top:176.30px;font-size:5.3px;width:30.64px">86</span>
<span class="abs td dk" style="left:592.25px;top:176.30px;font-size:5.3px;width:30.64px">109</span>
<span class="abs td dk" style="left:622.89px;top:176.30px;font-size:5.3px;width:30.64px">100</span>
<span class="abs td dk" style="left:653.53px;top:176.30px;font-size:5.3px;width:30.64px">94</span>
<span class="abs td dk" style="left:684.17px;top:176.30px;font-size:5.3px;width:30.64px">93</span>
<span class="abs td dk" style="left:714.81px;top:176.30px;font-size:5.3px;width:30.64px">67</span>
<span class="abs td dk" style="left:745.45px;top:176.30px;font-size:5.3px;width:30.64px">82</span>
<span class="abs td dk" style="left:776.08px;top:176.30px;font-size:5.3px;width:30.64px">75</span>
<span class="abs td dk" style="left:806.72px;top:176.30px;font-size:5.3px;width:30.64px">44</span>
<span class="abs td dk" style="left:837.36px;top:176.30px;font-size:5.3px;width:30.64px">44</span>
<span class="abs lb" style="left: 11.3px; top: 184.3px; font-size: 6px; letter-spacing: -0.253px;">Complétude AS</span>
<span class="abs td dk" style="left:71.40px;top:184.30px;font-size:5.3px;width:30.64px">66,57%</span>
<span class="abs td dk" style="left:102.04px;top:184.30px;font-size:5.3px;width:30.64px">65,56%</span>
<span class="abs td dk" style="left:132.68px;top:184.30px;font-size:5.3px;width:30.64px">69,40%</span>
<span class="abs td dk" style="left:163.32px;top:184.30px;font-size:5.3px;width:30.64px">70,19%</span>
<span class="abs td dk" style="left:193.95px;top:184.30px;font-size:5.3px;width:30.64px">74,49%</span>
<span class="abs td dk" style="left:224.59px;top:184.30px;font-size:5.3px;width:30.64px">76,62%</span>
<span class="abs td dk" style="left:255.23px;top:184.30px;font-size:5.3px;width:30.64px">73,20%</span>
<span class="abs td dk" style="left:285.87px;top:184.30px;font-size:5.3px;width:30.64px">71,30%</span>
<span class="abs td dk" style="left:316.51px;top:184.30px;font-size:5.3px;width:30.64px">68,12%</span>
<span class="abs td dk" style="left:347.15px;top:184.30px;font-size:5.3px;width:30.64px">71,05%</span>
<span class="abs td dk" style="left:377.78px;top:184.30px;font-size:5.3px;width:30.64px">77,21%</span>
<span class="abs td dk" style="left:408.42px;top:184.30px;font-size:5.3px;width:30.64px">72,33%</span>
<span class="abs td dk" style="left:439.06px;top:184.30px;font-size:5.3px;width:30.64px">80,42%</span>
<span class="abs td dk" style="left:469.70px;top:184.30px;font-size:5.3px;width:30.64px">78,77%</span>
<span class="abs td dk" style="left:500.34px;top:184.30px;font-size:5.3px;width:30.64px">84,40%</span>
<span class="abs td dk" style="left:530.98px;top:184.30px;font-size:5.3px;width:30.64px">77,29%</span>
<span class="abs td dk" style="left:561.62px;top:184.30px;font-size:5.3px;width:30.64px">76,05%</span>
<span class="abs td dk" style="left:592.25px;top:184.30px;font-size:5.3px;width:30.64px">71,63%</span>
<span class="abs td dk" style="left:622.89px;top:184.30px;font-size:5.3px;width:30.64px">77,28%</span>
<span class="abs td dk" style="left:653.53px;top:184.30px;font-size:5.3px;width:30.64px">76,25%</span>
<span class="abs td dk" style="left:684.17px;top:184.30px;font-size:5.3px;width:30.64px">73,35%</span>
<span class="abs td dk" style="left:714.81px;top:184.30px;font-size:5.3px;width:30.64px">77,04%</span>
<span class="abs td dk" style="left:745.45px;top:184.30px;font-size:5.3px;width:30.64px">84,61%</span>
<span class="abs td dk" style="left:776.08px;top:184.30px;font-size:5.3px;width:30.64px">83,11%</span>
<span class="abs td dk" style="left:806.72px;top:184.30px;font-size:5.3px;width:30.64px">81,92%</span>
<span class="abs td dk" style="left:837.36px;top:184.30px;font-size:5.3px;width:30.64px">83,29%</span>
<span class="abs lb" style="left: 11.3px; top: 196.3px; font-size: 6px; letter-spacing: 0.018px;">Létalité</span>
<span class="abs td gr" style="left:71.40px;top:196.30px;font-size:5.3px;width:30.64px">0,0%</span>
<span class="abs td gr" style="left:102.04px;top:196.30px;font-size:5.3px;width:30.64px">0,0%</span>
<span class="abs td gr" style="left:132.68px;top:196.30px;font-size:5.3px;width:30.64px">0,0%</span>
<span class="abs td gr" style="left:163.32px;top:196.30px;font-size:5.3px;width:30.64px">0,0%</span>
<span class="abs td gr" style="left:193.95px;top:196.30px;font-size:5.3px;width:30.64px">0,0%</span>
<span class="abs td gr" style="left:224.59px;top:196.30px;font-size:5.3px;width:30.64px">0,0%</span>
<span class="abs td gr" style="left:255.23px;top:196.30px;font-size:5.3px;width:30.64px">0,0%</span>
<span class="abs td gr" style="left:285.87px;top:196.30px;font-size:5.3px;width:30.64px">0,0%</span>
<span class="abs td gr" style="left:316.51px;top:196.30px;font-size:5.3px;width:30.64px">0,0%</span>
<span class="abs td gr" style="left:347.15px;top:196.30px;font-size:5.3px;width:30.64px">0,0%</span>
<span class="abs td gr" style="left:377.78px;top:196.30px;font-size:5.3px;width:30.64px">0,0%</span>
<span class="abs td gr" style="left:408.42px;top:196.30px;font-size:5.3px;width:30.64px">0,0%</span>
<span class="abs td gr" style="left:439.06px;top:196.30px;font-size:5.3px;width:30.64px">0,0%</span>
<span class="abs td gr" style="left:469.70px;top:196.30px;font-size:5.3px;width:30.64px">0,0%</span>
<span class="abs td gr" style="left:500.34px;top:196.30px;font-size:5.3px;width:30.64px">0,0%</span>
<span class="abs td gr" style="left:530.98px;top:196.30px;font-size:5.3px;width:30.64px">0,0%</span>
<span class="abs td gr" style="left:561.62px;top:196.30px;font-size:5.3px;width:30.64px">0,0%</span>
<span class="abs td gr" style="left:592.25px;top:196.30px;font-size:5.3px;width:30.64px">0,0%</span>
<span class="abs td gr" style="left:622.89px;top:196.30px;font-size:5.3px;width:30.64px">0,0%</span>
<span class="abs td gr" style="left:653.53px;top:196.30px;font-size:5.3px;width:30.64px">0,0%</span>
<span class="abs td gr" style="left:684.17px;top:196.30px;font-size:5.3px;width:30.64px">0,0%</span>
<span class="abs td gr" style="left:714.81px;top:196.30px;font-size:5.3px;width:30.64px">0,0%</span>
<span class="abs td gr" style="left:745.45px;top:196.30px;font-size:5.3px;width:30.64px">0,0%</span>
<span class="abs td gr" style="left:776.08px;top:196.30px;font-size:5.3px;width:30.64px">0,0%</span>
<span class="abs td gr" style="left:806.72px;top:196.30px;font-size:5.3px;width:30.64px">0,0%</span>
<span class="abs td gr" style="left:837.36px;top:196.30px;font-size:5.3px;width:30.64px">0,0%</span>
<span class="abs lb" style="left: 11.3px; top: 209.3px; font-size: 6px; letter-spacing: -0.556px;">Q3</span>
<span class="abs td dk" style="left:71.40px;top:209.30px;font-size:5.3px;width:30.64px">343 234</span>
<span class="abs td dk" style="left:102.04px;top:209.30px;font-size:5.3px;width:30.64px">355 086</span>
<span class="abs td dk" style="left:132.68px;top:209.30px;font-size:5.3px;width:30.64px">365 782</span>
<span class="abs td dk" style="left:163.32px;top:209.30px;font-size:5.3px;width:30.64px">372 582</span>
<span class="abs td dk" style="left:193.95px;top:209.30px;font-size:5.3px;width:30.64px">356 936</span>
<span class="abs td dk" style="left:224.59px;top:209.30px;font-size:5.3px;width:30.64px">375 492</span>
<span class="abs td dk" style="left:255.23px;top:209.30px;font-size:5.3px;width:30.64px">363 681</span>
<span class="abs td dk" style="left:285.87px;top:209.30px;font-size:5.3px;width:30.64px">364 477</span>
<span class="abs td dk" style="left:316.51px;top:209.30px;font-size:5.3px;width:30.64px">360 628</span>
<span class="abs td dk" style="left:347.15px;top:209.30px;font-size:5.3px;width:30.64px">364 728</span>
<span class="abs td dk" style="left:377.78px;top:209.30px;font-size:5.3px;width:30.64px">365 063</span>
<span class="abs td dk" style="left:408.42px;top:209.30px;font-size:5.3px;width:30.64px">364 773</span>
<span class="abs td dk" style="left:439.06px;top:209.30px;font-size:5.3px;width:30.64px">365 893</span>
<span class="abs td dk" style="left:469.70px;top:209.30px;font-size:5.3px;width:30.64px">364 444</span>
<span class="abs td dk" style="left:500.34px;top:209.30px;font-size:5.3px;width:30.64px">377 412</span>
<span class="abs td dk" style="left:530.98px;top:209.30px;font-size:5.3px;width:30.64px">366 798</span>
<span class="abs td dk" style="left:561.62px;top:209.30px;font-size:5.3px;width:30.64px">404 000</span>
<span class="abs td dk" style="left:592.25px;top:209.30px;font-size:5.3px;width:30.64px">389 748</span>
<span class="abs td dk" style="left:622.89px;top:209.30px;font-size:5.3px;width:30.64px">375 926</span>
<span class="abs td dk" style="left:653.53px;top:209.30px;font-size:5.3px;width:30.64px">393 831</span>
<span class="abs td dk" style="left:684.17px;top:209.30px;font-size:5.3px;width:30.64px">402 588</span>
<span class="abs td dk" style="left:714.81px;top:209.30px;font-size:5.3px;width:30.64px">396 383</span>
<span class="abs td dk" style="left:745.45px;top:209.30px;font-size:5.3px;width:30.64px">396 074</span>
<span class="abs td dk" style="left:776.08px;top:209.30px;font-size:5.3px;width:30.64px">408 316</span>
<span class="abs td dk" style="left:806.72px;top:209.30px;font-size:5.3px;width:30.64px">399 788</span>
<span class="abs td dk" style="left:837.36px;top:209.30px;font-size:5.3px;width:30.64px">388 745</span>
<span class="abs lb" style="left: 11.3px; top: 221.3px; font-size: 6px; letter-spacing: -0.203px;">Average 5 dernières a..</span>
<span class="abs td dk" style="left:71.40px;top:221.30px;font-size:5.3px;width:30.64px">314 212</span>
<span class="abs td dk" style="left:102.04px;top:221.30px;font-size:5.3px;width:30.64px">315 209</span>
<span class="abs td dk" style="left:132.68px;top:221.30px;font-size:5.3px;width:30.64px">337 571</span>
<span class="abs td dk" style="left:163.32px;top:221.30px;font-size:5.3px;width:30.64px">344 368</span>
<span class="abs td dk" style="left:193.95px;top:221.30px;font-size:5.3px;width:30.64px">343 705</span>
<span class="abs td dk" style="left:224.59px;top:221.30px;font-size:5.3px;width:30.64px">359 020</span>
<span class="abs td dk" style="left:255.23px;top:221.30px;font-size:5.3px;width:30.64px">353 643</span>
<span class="abs td dk" style="left:285.87px;top:221.30px;font-size:5.3px;width:30.64px">358 745</span>
<span class="abs td dk" style="left:316.51px;top:221.30px;font-size:5.3px;width:30.64px">355 224</span>
<span class="abs td dk" style="left:347.15px;top:221.30px;font-size:5.3px;width:30.64px">361 178</span>
<span class="abs td dk" style="left:377.78px;top:221.30px;font-size:5.3px;width:30.64px">357 607</span>
<span class="abs td dk" style="left:408.42px;top:221.30px;font-size:5.3px;width:30.64px">358 417</span>
<span class="abs td dk" style="left:439.06px;top:221.30px;font-size:5.3px;width:30.64px">355 682</span>
<span class="abs td dk" style="left:469.70px;top:221.30px;font-size:5.3px;width:30.64px">355 935</span>
<span class="abs td dk" style="left:500.34px;top:221.30px;font-size:5.3px;width:30.64px">366 238</span>
<span class="abs td dk" style="left:530.98px;top:221.30px;font-size:5.3px;width:30.64px">363 536</span>
<span class="abs td dk" style="left:561.62px;top:221.30px;font-size:5.3px;width:30.64px">400 193</span>
<span class="abs td dk" style="left:592.25px;top:221.30px;font-size:5.3px;width:30.64px">371 989</span>
<span class="abs td dk" style="left:622.89px;top:221.30px;font-size:5.3px;width:30.64px">372 530</span>
<span class="abs td dk" style="left:653.53px;top:221.30px;font-size:5.3px;width:30.64px">388 012</span>
<span class="abs td dk" style="left:684.17px;top:221.30px;font-size:5.3px;width:30.64px">396 343</span>
<span class="abs td dk" style="left:714.81px;top:221.30px;font-size:5.3px;width:30.64px">382 469</span>
<span class="abs td dk" style="left:745.45px;top:221.30px;font-size:5.3px;width:30.64px">366 220</span>
<span class="abs td dk" style="left:776.08px;top:221.30px;font-size:5.3px;width:30.64px">364 563</span>
<span class="abs td dk" style="left:806.72px;top:221.30px;font-size:5.3px;width:30.64px">369 421</span>
<span class="abs td dk" style="left:837.36px;top:221.30px;font-size:5.3px;width:30.64px">369 117</span>
<span class="abs lb" style="left: 11.3px; top: 232.3px; font-size: 6px; letter-spacing: -0.203px;">Average 5 dernières a..</span>
<span class="abs td dk" style="left:71.40px;top:232.30px;font-size:5.3px;width:30.64px">628 423</span>
<span class="abs td dk" style="left:102.04px;top:232.30px;font-size:5.3px;width:30.64px">630 418</span>
<span class="abs td dk" style="left:132.68px;top:232.30px;font-size:5.3px;width:30.64px">675 143</span>
<span class="abs td dk" style="left:163.32px;top:232.30px;font-size:5.3px;width:30.64px">688 730</span>
<span class="abs td dk" style="left:193.95px;top:232.30px;font-size:5.3px;width:30.64px">687 410</span>
<span class="abs td dk" style="left:224.59px;top:232.30px;font-size:5.3px;width:30.64px">718 041</span>
<span class="abs td dk" style="left:255.23px;top:232.30px;font-size:5.3px;width:30.64px">707 286</span>
<span class="abs td dk" style="left:285.87px;top:232.30px;font-size:5.3px;width:30.64px">717 490</span>
<span class="abs td dk" style="left:316.51px;top:232.30px;font-size:5.3px;width:30.64px">710 447</span>
<span class="abs td dk" style="left:347.15px;top:232.30px;font-size:5.3px;width:30.64px">722 356</span>
<span class="abs td dk" style="left:377.78px;top:232.30px;font-size:5.3px;width:30.64px">715 214</span>
<span class="abs td dk" style="left:408.42px;top:232.30px;font-size:5.3px;width:30.64px">716 834</span>
<span class="abs td dk" style="left:439.06px;top:232.30px;font-size:5.3px;width:30.64px">711 363</span>
<span class="abs td dk" style="left:469.70px;top:232.30px;font-size:5.3px;width:30.64px">711 870</span>
<span class="abs td dk" style="left:500.34px;top:232.30px;font-size:5.3px;width:30.64px">732 477</span>
<span class="abs td dk" style="left:530.98px;top:232.30px;font-size:5.3px;width:30.64px">727 072</span>
<span class="abs td dk" style="left:561.62px;top:232.30px;font-size:5.3px;width:30.64px">800 385</span>
<span class="abs td dk" style="left:592.25px;top:232.30px;font-size:5.3px;width:30.64px">743 978</span>
<span class="abs td dk" style="left:622.89px;top:232.30px;font-size:5.3px;width:30.64px">745 061</span>
<span class="abs td dk" style="left:653.53px;top:232.30px;font-size:5.3px;width:30.64px">776 024</span>
<span class="abs td dk" style="left:684.17px;top:232.30px;font-size:5.3px;width:30.64px">792 687</span>
<span class="abs td dk" style="left:714.81px;top:232.30px;font-size:5.3px;width:30.64px">764 918</span>
<span class="abs td dk" style="left:745.45px;top:232.30px;font-size:5.3px;width:30.64px">732 439</span>
<span class="abs td dk" style="left:776.08px;top:232.30px;font-size:5.3px;width:30.64px">729 125</span>
<span class="abs td dk" style="left:806.72px;top:232.30px;font-size:5.3px;width:30.64px">738 842</span>
<span class="abs td dk" style="left:837.36px;top:232.30px;font-size:5.3px;width:30.64px">738 234</span>
<span class="abs ld" style="left: 11.4px; top: 246.3px; font-size: 5.9px; letter-spacing: -0.092px;">Doublement période</span>
<span class="abs td nn" style="left:71.40px;top:248.30px;font-size:5.4px;width:30.64px">Non</span>
<span class="abs td nn" style="left:102.04px;top:248.30px;font-size:5.4px;width:30.64px">Non</span>
<span class="abs td nn" style="left:132.68px;top:248.30px;font-size:5.4px;width:30.64px">Non</span>
<span class="abs td nn" style="left:163.32px;top:248.30px;font-size:5.4px;width:30.64px">Non</span>
<span class="abs td nn" style="left:193.95px;top:248.30px;font-size:5.4px;width:30.64px">Non</span>
<span class="abs td nn" style="left:224.59px;top:248.30px;font-size:5.4px;width:30.64px">Non</span>
<span class="abs td nn" style="left:255.23px;top:248.30px;font-size:5.4px;width:30.64px">Non</span>
<span class="abs td nn" style="left:285.87px;top:248.30px;font-size:5.4px;width:30.64px">Non</span>
<span class="abs td nn" style="left:316.51px;top:248.30px;font-size:5.4px;width:30.64px">Non</span>
<span class="abs td nn" style="left:347.15px;top:248.30px;font-size:5.4px;width:30.64px">Non</span>
<span class="abs td nn" style="left:377.78px;top:248.30px;font-size:5.4px;width:30.64px">Non</span>
<span class="abs td nn" style="left:408.42px;top:248.30px;font-size:5.4px;width:30.64px">Non</span>
<span class="abs td nn" style="left:439.06px;top:248.30px;font-size:5.4px;width:30.64px">Non</span>
<span class="abs td nn" style="left:469.70px;top:248.30px;font-size:5.4px;width:30.64px">Non</span>
<span class="abs td nn" style="left:500.34px;top:248.30px;font-size:5.4px;width:30.64px">Non</span>
<span class="abs td nn" style="left:530.98px;top:248.30px;font-size:5.4px;width:30.64px">Non</span>
<span class="abs td nn" style="left:561.62px;top:248.30px;font-size:5.4px;width:30.64px">Non</span>
<span class="abs td nn" style="left:592.25px;top:248.30px;font-size:5.4px;width:30.64px">Non</span>
<span class="abs td nn" style="left:622.89px;top:248.30px;font-size:5.4px;width:30.64px">Non</span>
<span class="abs td nn" style="left:653.53px;top:248.30px;font-size:5.4px;width:30.64px">Non</span>
<span class="abs td nn" style="left:684.17px;top:248.30px;font-size:5.4px;width:30.64px">Non</span>
<span class="abs td nn" style="left:714.81px;top:248.30px;font-size:5.4px;width:30.64px">Non</span>
<span class="abs td nn" style="left:745.45px;top:248.30px;font-size:5.4px;width:30.64px">Non</span>
<span class="abs td nn" style="left:776.08px;top:248.30px;font-size:5.4px;width:30.64px">Non</span>
<span class="abs td nn" style="left:806.72px;top:248.30px;font-size:5.4px;width:30.64px">Non</span>
<span class="abs td nn" style="left:837.36px;top:248.30px;font-size:5.4px;width:30.64px">Non</span>
<span class="abs ld" style="left: 11.4px; top: 260.3px; font-size: 5.9px; letter-spacing: -0.157px;">Doublement</span>
<span class="abs td nn" style="left:71.40px;top:258.30px;font-size:5.4px;width:30.64px">Non</span>
<span class="abs td nn" style="left:102.04px;top:258.30px;font-size:5.4px;width:30.64px">Non</span>
<span class="abs td nn" style="left:132.68px;top:258.30px;font-size:5.4px;width:30.64px">Non</span>
<span class="abs td nn" style="left:163.32px;top:258.30px;font-size:5.4px;width:30.64px">Non</span>
<span class="abs td nn" style="left:193.95px;top:258.30px;font-size:5.4px;width:30.64px">Non</span>
<span class="abs td nn" style="left:224.59px;top:258.30px;font-size:5.4px;width:30.64px">Non</span>
<span class="abs td nn" style="left:255.23px;top:258.30px;font-size:5.4px;width:30.64px">Non</span>
<span class="abs td nn" style="left:285.87px;top:258.30px;font-size:5.4px;width:30.64px">Non</span>
<span class="abs td nn" style="left:316.51px;top:258.30px;font-size:5.4px;width:30.64px">Non</span>
<span class="abs td nn" style="left:347.15px;top:258.30px;font-size:5.4px;width:30.64px">Non</span>
<span class="abs td nn" style="left:377.78px;top:258.30px;font-size:5.4px;width:30.64px">Non</span>
<span class="abs td nn" style="left:408.42px;top:258.30px;font-size:5.4px;width:30.64px">Non</span>
<span class="abs td nn" style="left:439.06px;top:258.30px;font-size:5.4px;width:30.64px">Non</span>
<span class="abs td nn" style="left:469.70px;top:258.30px;font-size:5.4px;width:30.64px">Non</span>
<span class="abs td nn" style="left:500.34px;top:258.30px;font-size:5.4px;width:30.64px">Non</span>
<span class="abs td nn" style="left:530.98px;top:258.30px;font-size:5.4px;width:30.64px">Non</span>
<span class="abs td nn" style="left:561.62px;top:258.30px;font-size:5.4px;width:30.64px">Non</span>
<span class="abs td nn" style="left:592.25px;top:258.30px;font-size:5.4px;width:30.64px">Non</span>
<span class="abs td nn" style="left:622.89px;top:258.30px;font-size:5.4px;width:30.64px">Non</span>
<span class="abs td nn" style="left:653.53px;top:258.30px;font-size:5.4px;width:30.64px">Non</span>
<span class="abs td nn" style="left:684.17px;top:258.30px;font-size:5.4px;width:30.64px">Non</span>
<span class="abs td nn" style="left:714.81px;top:258.30px;font-size:5.4px;width:30.64px">Non</span>
<span class="abs td nn" style="left:745.45px;top:258.30px;font-size:5.4px;width:30.64px">Non</span>
<span class="abs td nn" style="left:776.08px;top:258.30px;font-size:5.4px;width:30.64px">Non</span>
<span class="abs td nn" style="left:806.72px;top:258.30px;font-size:5.4px;width:30.64px">Non</span>
<span class="abs td nn" style="left:837.36px;top:258.30px;font-size:5.4px;width:30.64px">Non</span>
<span class="abs ld" style="left: 11.4px; top: 275.3px; font-size: 5.9px; letter-spacing: -0.232px;">Dépassement Q3</span>
<span class="abs td nn" style="left:71.40px;top:277.30px;font-size:5.4px;width:30.64px">Oui</span>
<span class="abs td nn" style="left:102.04px;top:277.30px;font-size:5.4px;width:30.64px">Oui</span>
<span class="abs td nn" style="left:132.68px;top:277.30px;font-size:5.4px;width:30.64px">Oui</span>
<span class="abs td nn" style="left:163.32px;top:277.30px;font-size:5.4px;width:30.64px">Oui</span>
<span class="abs td nn" style="left:193.95px;top:277.30px;font-size:5.4px;width:30.64px">Oui</span>
<span class="abs td nn" style="left:224.59px;top:277.30px;font-size:5.4px;width:30.64px">Oui</span>
<span class="abs td nn" style="left:255.23px;top:277.30px;font-size:5.4px;width:30.64px">Oui</span>
<span class="abs td nn" style="left:285.87px;top:277.30px;font-size:5.4px;width:30.64px">Oui</span>
<span class="abs td nn" style="left:316.51px;top:277.30px;font-size:5.4px;width:30.64px">Oui</span>
<span class="abs td nn" style="left:347.15px;top:277.30px;font-size:5.4px;width:30.64px">Oui</span>
<span class="abs td nn" style="left:377.78px;top:277.30px;font-size:5.4px;width:30.64px">Oui</span>
<span class="abs td nn" style="left:408.42px;top:277.30px;font-size:5.4px;width:30.64px">Oui</span>
<span class="abs td nn" style="left:439.06px;top:277.30px;font-size:5.4px;width:30.64px">Oui</span>
<span class="abs td nn" style="left:469.70px;top:277.30px;font-size:5.4px;width:30.64px">Oui</span>
<span class="abs td nn" style="left:500.34px;top:277.30px;font-size:5.4px;width:30.64px">Oui</span>
<span class="abs td nn" style="left:530.98px;top:277.30px;font-size:5.4px;width:30.64px">Oui</span>
<span class="abs td nn" style="left:561.62px;top:277.30px;font-size:5.4px;width:30.64px">Oui</span>
<span class="abs td nn" style="left:592.25px;top:277.30px;font-size:5.4px;width:30.64px">Oui</span>
<span class="abs td nn" style="left:622.89px;top:277.30px;font-size:5.4px;width:30.64px">Oui</span>
<span class="abs td nn" style="left:653.53px;top:277.30px;font-size:5.4px;width:30.64px">Oui</span>
<span class="abs td nn" style="left:684.17px;top:277.30px;font-size:5.4px;width:30.64px">Oui</span>
<span class="abs td nn" style="left:714.81px;top:277.30px;font-size:5.4px;width:30.64px">Oui</span>
<span class="abs td nn" style="left:745.45px;top:277.30px;font-size:5.4px;width:30.64px">Oui</span>
<span class="abs td nn" style="left:776.08px;top:277.30px;font-size:5.4px;width:30.64px">Oui</span>
<span class="abs td nn" style="left:806.72px;top:277.30px;font-size:5.4px;width:30.64px">Oui</span>
<span class="abs td nn" style="left:837.36px;top:277.30px;font-size:5.4px;width:30.64px">Oui</span>
<span class="abs ctitle" style="left: 13.4px; top: 291.6px; letter-spacing: -0.223px;">Evolution des cas</span>
<span class="abs ctitle" style="left: 268.1px; top: 291.6px; letter-spacing: -0.249px;">Comparaison 3 dernières années</span>
<span class="abs plab" style="left: 793px; top: 288.3px; font-size: 5.6px; letter-spacing: -0.119px;">Méthode de détection seuil</span>
<span class="abs ptxt" style="left: 794.7px; top: 299.3px; font-size: 5.2px; letter-spacing: 0.069px;">Létalité supérieure à 1%</span>
<span class="abs plab" style="left: 793px; top: 332.3px; font-size: 5.6px; letter-spacing: -0.068px;">Semaine 2024</span>
<span class="abs ptxt" style="left:794.7px;top:342.30px;font-size:5.2px;">2</span>
<span class="abs pleg" style="left:803px;top:429.30px;font-size:5.9px;">Non</span>
<span class="abs pleg" style="left:803px;top:438.30px;font-size:5.9px;">Oui</span>
</div>

</body></html>
